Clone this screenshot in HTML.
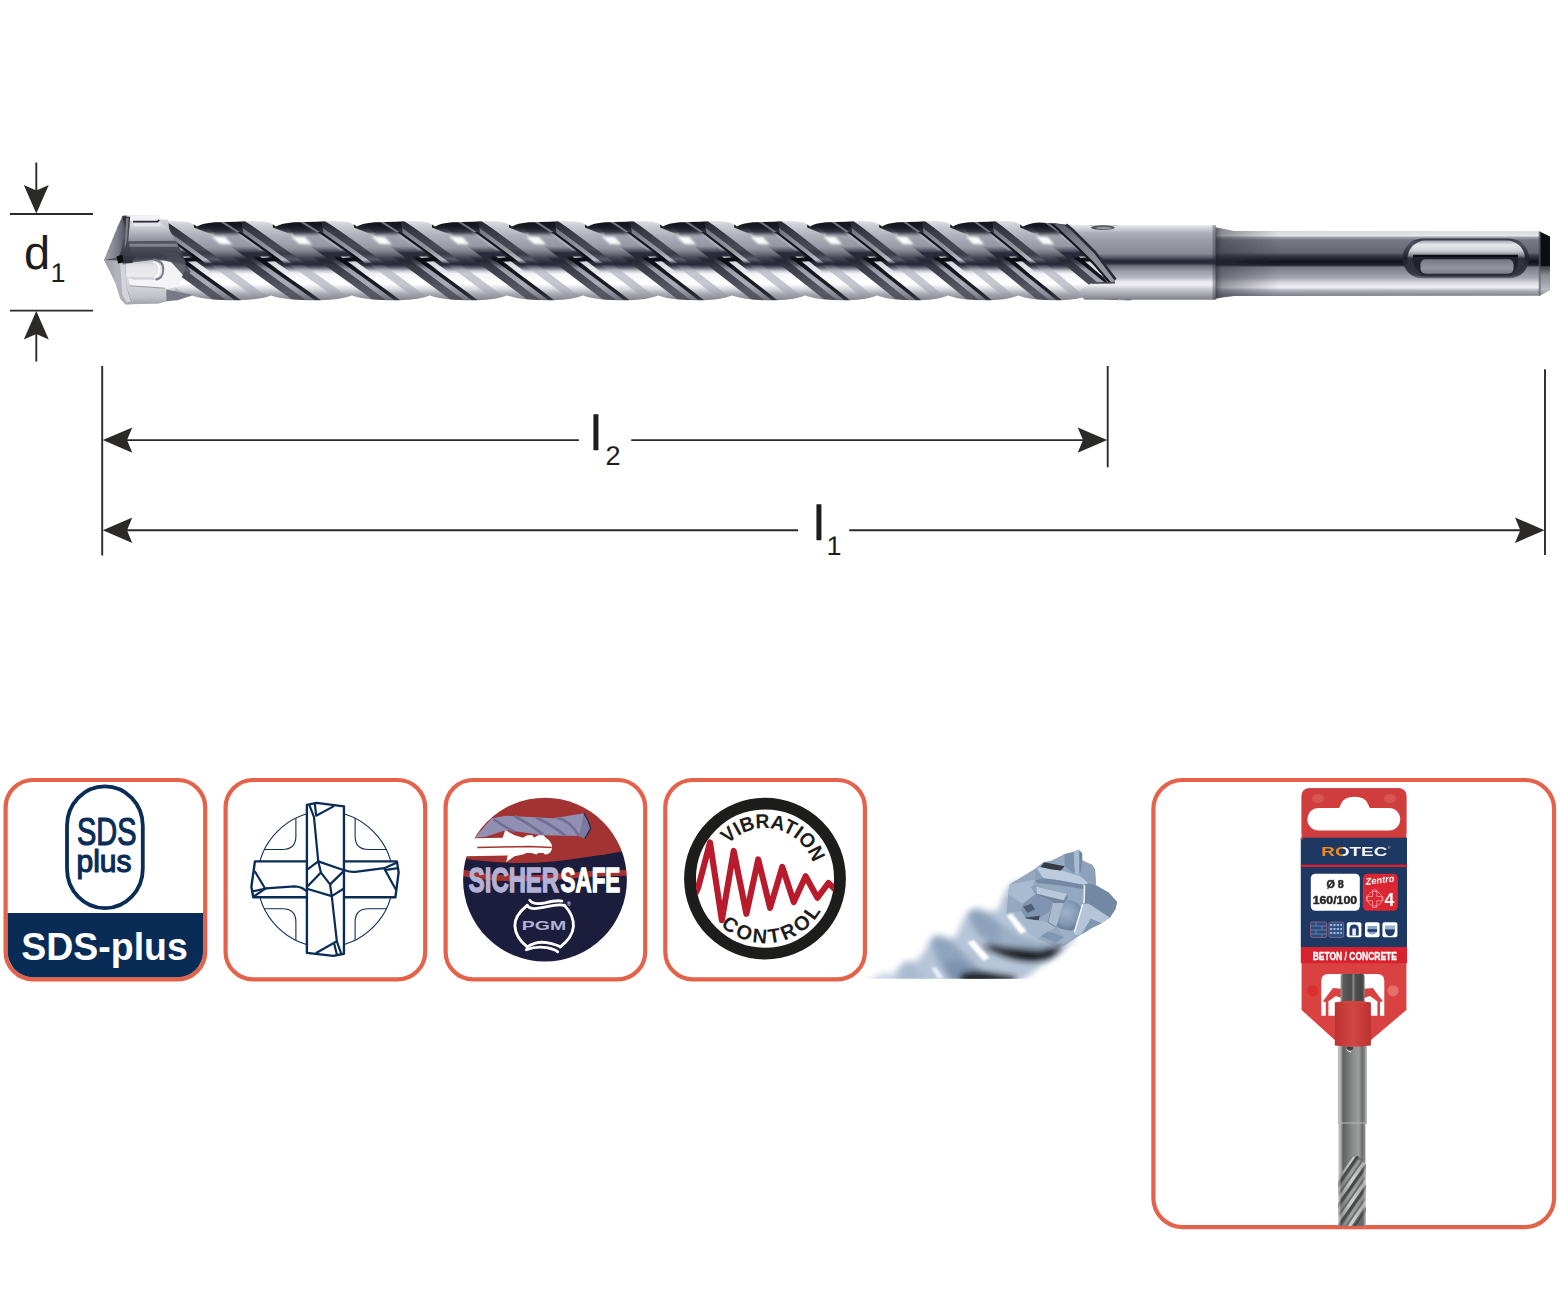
<!DOCTYPE html>
<html lang="en">
<head>
<meta charset="utf-8">
<title>SDS-plus hammer drill bit</title>
<style>
html,body{margin:0;padding:0;background:#fff;}
body{width:1560px;height:1300px;overflow:hidden;position:relative;font-family:"Liberation Sans",sans-serif;}
svg{position:absolute;left:0;top:0;display:block;}
text{font-family:"Liberation Sans",sans-serif;}
</style>
</head>
<body>
<svg width="1560" height="1300" viewBox="0 0 1560 1300">
<defs>
<linearGradient id="gGroove" gradientUnits="userSpaceOnUse" x1="0" y1="220.0" x2="0" y2="300.0"><stop offset="0.000" stop-color="#50505a"/><stop offset="0.037" stop-color="#2a2a34"/><stop offset="0.138" stop-color="#6c6c78"/><stop offset="0.212" stop-color="#a2a2ae"/><stop offset="0.325" stop-color="#9898a4"/><stop offset="0.375" stop-color="#5c5c6a"/><stop offset="0.412" stop-color="#2c2c3c"/><stop offset="0.562" stop-color="#2a2a3a"/><stop offset="0.600" stop-color="#6c6c7c"/><stop offset="0.637" stop-color="#c8c8d2"/><stop offset="0.675" stop-color="#f6f6fa"/><stop offset="0.800" stop-color="#ffffff"/><stop offset="0.863" stop-color="#d8d8de"/><stop offset="0.925" stop-color="#a8a8b2"/><stop offset="1.000" stop-color="#84848e"/></linearGradient>
<linearGradient id="gLand" gradientUnits="userSpaceOnUse" x1="0" y1="220.0" x2="0" y2="300.0"><stop offset="0.000" stop-color="#e6e6ec"/><stop offset="0.062" stop-color="#cfcfd7"/><stop offset="0.200" stop-color="#b0b0ba"/><stop offset="0.350" stop-color="#9898a4"/><stop offset="0.412" stop-color="#74747f"/><stop offset="0.463" stop-color="#4c4c5a"/><stop offset="0.487" stop-color="#404050" stop-opacity="1"/><stop offset="0.537" stop-color="#363646" stop-opacity="0"/></linearGradient>
<linearGradient id="gA" gradientUnits="userSpaceOnUse" x1="0" y1="220.0" x2="0" y2="300.0"><stop offset="0.000" stop-color="#101018"/><stop offset="0.375" stop-color="#14141c"/><stop offset="0.487" stop-color="#0c0c14" stop-opacity="1"/><stop offset="0.537" stop-color="#0c0c14" stop-opacity="0"/></linearGradient>
<linearGradient id="gAl" gradientUnits="userSpaceOnUse" x1="0" y1="220.0" x2="0" y2="300.0"><stop offset="0.438" stop-color="#0c0c14" stop-opacity="0"/><stop offset="0.494" stop-color="#0c0c14" stop-opacity="1"/><stop offset="0.688" stop-color="#181822" stop-opacity="1"/><stop offset="0.875" stop-color="#20202a" stop-opacity="1"/><stop offset="1.000" stop-color="#34343e" stop-opacity="1"/></linearGradient>
<linearGradient id="gG1" gradientUnits="userSpaceOnUse" x1="0" y1="220.0" x2="0" y2="300.0"><stop offset="0.000" stop-color="#3c3c46"/><stop offset="0.075" stop-color="#6a6a76"/><stop offset="0.250" stop-color="#8a8a96"/><stop offset="0.400" stop-color="#9a9aa6"/><stop offset="0.475" stop-color="#b4b4c0"/><stop offset="0.500" stop-color="#bcbcc8" stop-opacity="1"/><stop offset="0.550" stop-color="#c4c4ce" stop-opacity="0"/></linearGradient>
<linearGradient id="gD" gradientUnits="userSpaceOnUse" x1="0" y1="220.0" x2="0" y2="300.0"><stop offset="0.000" stop-color="#24242e"/><stop offset="0.150" stop-color="#3a3a46"/><stop offset="0.350" stop-color="#4a4a56"/><stop offset="0.425" stop-color="#3a3a48"/><stop offset="0.487" stop-color="#5a5a68" stop-opacity="1"/><stop offset="0.537" stop-color="#6a6a78" stop-opacity="0"/></linearGradient>
<linearGradient id="gDl" gradientUnits="userSpaceOnUse" x1="0" y1="220.0" x2="0" y2="300.0"><stop offset="0.450" stop-color="#20202c" stop-opacity="0"/><stop offset="0.506" stop-color="#262632" stop-opacity="1"/><stop offset="0.537" stop-color="#2c2c38" stop-opacity="1"/><stop offset="0.600" stop-color="#3c3c48"/><stop offset="0.750" stop-color="#4c4c58"/><stop offset="0.900" stop-color="#5a5a66"/><stop offset="1.000" stop-color="#50505a"/></linearGradient>
<linearGradient id="gG1l" gradientUnits="userSpaceOnUse" x1="0" y1="220.0" x2="0" y2="300.0"><stop offset="0.450" stop-color="#1c1c26" stop-opacity="0"/><stop offset="0.506" stop-color="#34343f" stop-opacity="1"/><stop offset="0.550" stop-color="#50505c" stop-opacity="1"/><stop offset="0.613" stop-color="#9a9aa6"/><stop offset="0.800" stop-color="#acacb6"/><stop offset="0.925" stop-color="#8c8c98"/><stop offset="1.000" stop-color="#6c6c78"/></linearGradient>
<linearGradient id="gStreak" gradientUnits="userSpaceOnUse" x1="0" y1="220.0" x2="0" y2="300.0"><stop offset="0.550" stop-color="#9c9ca8" stop-opacity="0"/><stop offset="0.650" stop-color="#b4b4c0" stop-opacity="0.7"/><stop offset="0.850" stop-color="#b0b0bc" stop-opacity="0.75"/><stop offset="1.000" stop-color="#8c8c98" stop-opacity="0.5"/></linearGradient>
<linearGradient id="gLite" gradientUnits="userSpaceOnUse" x1="0" y1="220.0" x2="0" y2="300.0"><stop offset="0.438" stop-color="#c4c4ce" stop-opacity="1"/><stop offset="0.625" stop-color="#e8e8ee" stop-opacity="1"/><stop offset="0.675" stop-color="#ffffff" stop-opacity="0"/></linearGradient>
<linearGradient id="gWedge" gradientUnits="userSpaceOnUse" x1="0" y1="220.0" x2="0" y2="300.0"><stop offset="-0.013" stop-color="#3a3a44" stop-opacity="1"/><stop offset="0.025" stop-color="#12121a" stop-opacity="1"/><stop offset="0.100" stop-color="#1a1a24" stop-opacity="0.95"/><stop offset="0.144" stop-color="#262632" stop-opacity="0.8"/><stop offset="0.188" stop-color="#2a2a36" stop-opacity="0"/></linearGradient>
<filter id="fSoft" x="-5%" y="-20%" width="110%" height="140%"><feGaussianBlur stdDeviation="0.75"/></filter>
<filter id="fSoft2" x="-30%" y="-30%" width="160%" height="160%"><feGaussianBlur stdDeviation="1.3"/></filter>
<clipPath id="cpFlute"><path d="M150.0,222.0 L117.0,226.6 Q122.6,223.2 134.6,222.2 L157.0,221.8 Q174.6,220.2 185.8,221.8 Q193.0,223.0 197.0,226.6 L197.0,226.6 Q202.5,223.2 214.4,222.2 L236.5,221.8 Q253.9,220.2 264.9,221.8 Q272.1,223.0 276.0,226.6 L276.0,226.6 Q281.7,223.2 293.8,222.2 L316.5,221.8 Q334.3,220.2 345.7,221.8 Q352.9,223.0 357.0,226.6 L357.0,226.6 Q362.5,223.2 374.2,222.2 L396.0,221.8 Q413.2,220.2 424.1,221.8 Q431.1,223.0 435.0,226.6 L435.0,226.6 Q440.4,223.2 451.9,222.2 L473.5,221.8 Q490.4,220.2 501.2,221.8 Q508.1,223.0 512.0,226.6 L512.0,226.6 Q517.3,223.2 528.7,222.2 L550.0,221.8 Q566.7,220.2 577.4,221.8 Q584.2,223.0 588.0,226.6 L588.0,226.6 Q593.2,223.2 604.5,222.2 L625.5,221.8 Q642.0,220.2 652.5,221.8 Q659.2,223.0 663.0,226.6 L663.0,226.6 Q668.2,223.2 679.3,222.2 L700.0,221.8 Q716.3,220.2 726.6,221.8 Q733.3,223.0 737.0,226.6 L737.0,226.6 Q742.1,223.2 753.1,222.2 L773.5,221.8 Q789.6,220.2 799.8,221.8 Q806.4,223.0 810.0,226.6 L810.0,226.6 Q815.0,223.2 825.8,222.2 L846.0,221.8 Q861.8,220.2 871.9,221.8 Q878.4,223.0 882.0,226.6 L882.0,226.6 Q887.0,223.2 897.6,222.2 L917.5,221.8 Q933.1,220.2 943.1,221.8 Q949.5,223.0 953.0,226.6 L953.0,226.6 Q957.9,223.2 968.4,222.2 L988.0,221.8 Q1003.4,220.2 1013.2,221.8 Q1019.5,223.0 1023.0,226.6 L1023.0,226.6 Q1028.0,223.2 1039.0,222.4 L1056,223.4 L1068,225.6 L1118.0,225.6 L1118.0,300.0 L1158.0,295.4 Q1149.6,299.4 1130.0,300.3 Q1102.0,300.6 1088.0,295.4 L1088.0,295.4 Q1079.6,299.4 1060.0,300.3 Q1032.0,300.6 1018.0,295.4 L1018.0,295.4 Q1009.6,299.4 990.0,300.3 Q962.0,300.6 948.0,295.4 L948.0,295.4 Q939.5,299.4 919.6,300.3 Q891.2,300.6 877.0,295.4 L877.0,295.4 Q868.4,299.4 848.2,300.3 Q819.4,300.6 805.0,295.4 L805.0,295.4 Q796.2,299.4 775.8,300.3 Q746.6,300.6 732.0,295.4 L732.0,295.4 Q723.1,299.4 702.4,300.3 Q672.8,300.6 658.0,295.4 L658.0,295.4 Q649.0,299.4 628.0,300.3 Q598.0,300.6 583.0,295.4 L583.0,295.4 Q573.9,299.4 552.6,300.3 Q522.2,300.6 507.0,295.4 L507.0,295.4 Q497.8,299.4 476.2,300.3 Q445.4,300.6 430.0,295.4 L430.0,295.4 Q420.6,299.4 398.8,300.3 Q367.6,300.6 352.0,295.4 L352.0,295.4 Q342.3,299.4 319.6,300.3 Q287.2,300.6 271.0,295.4 L271.0,295.4 Q261.5,299.4 239.4,300.3 Q207.8,300.6 192.0,295.4 L192.0,295.4 Q182.4,299.4 160.0,300.3 Q128.0,300.6 112.0,295.4 L150.0,298.0 Z"/></clipPath><filter id="fHead" x="-5%" y="-5%" width="110%" height="110%"><feGaussianBlur stdDeviation="9"/></filter>
<linearGradient id="ghBody" gradientUnits="userSpaceOnUse" x1="0" y1="66" x2="0" y2="1228">
 <stop offset="0" stop-color="#dcdce2"/><stop offset="0.3" stop-color="#a0a0aa"/><stop offset="0.5" stop-color="#50505c"/><stop offset="0.6" stop-color="#e0e0e6"/><stop offset="1" stop-color="#c0c0c8"/>
</linearGradient>
<linearGradient id="ghUpper" gradientUnits="userSpaceOnUse" x1="0" y1="160" x2="0" y2="410">
 <stop offset="0" stop-color="#e4e4ea"/><stop offset="0.3" stop-color="#c8c8d0"/><stop offset="1" stop-color="#8e8e9a"/>
</linearGradient>
<linearGradient id="ghMid" gradientUnits="userSpaceOnUse" x1="0" y1="400" x2="0" y2="700">
 <stop offset="0" stop-color="#555560"/><stop offset="0.35" stop-color="#4c4c58"/><stop offset="0.7" stop-color="#3c3c48"/><stop offset="1" stop-color="#5c5c68"/>
</linearGradient>
<linearGradient id="ghTab" gradientUnits="userSpaceOnUse" x1="0" y1="650" x2="0" y2="905">
 <stop offset="0" stop-color="#b8b8c2"/><stop offset="0.25" stop-color="#e2e2e8"/><stop offset="0.8" stop-color="#ececf0"/><stop offset="1" stop-color="#c4c4cc"/>
</linearGradient>
<linearGradient id="ghPlate" gradientUnits="userSpaceOnUse" x1="0" y1="985" x2="0" y2="1222">
 <stop offset="0" stop-color="#d4d4da"/><stop offset="0.6" stop-color="#c2c2ca"/><stop offset="1" stop-color="#a4a4ae"/>
</linearGradient>
<linearGradient id="ghFacetU" gradientUnits="userSpaceOnUse" x1="55" y1="0" x2="340" y2="0">
 <stop offset="0" stop-color="#a4a4ae"/><stop offset="0.6" stop-color="#7c7c88"/><stop offset="1" stop-color="#50505c"/>
</linearGradient>
<linearGradient id="ghFacetL" gradientUnits="userSpaceOnUse" x1="55" y1="0" x2="400" y2="0">
 <stop offset="0" stop-color="#9c9ca6"/><stop offset="0.5" stop-color="#b4b4bc"/><stop offset="1" stop-color="#a8a8b2"/>
</linearGradient>
<linearGradient id="ghBandV" gradientUnits="userSpaceOnUse" x1="0" y1="80" x2="0" y2="695">
 <stop offset="0" stop-color="#2c2c36"/><stop offset="0.4" stop-color="#54545f"/><stop offset="0.8" stop-color="#3c3c48"/><stop offset="1" stop-color="#30303a"/>
</linearGradient>
<linearGradient id="gsShank" gradientUnits="userSpaceOnUse" x1="0" y1="231.2" x2="0" y2="295.8">
 <stop offset="0" stop-color="#d6d6de"/><stop offset="0.07" stop-color="#e6e6ec"/><stop offset="0.1" stop-color="#9a9aa4"/><stop offset="0.14" stop-color="#787884"/><stop offset="0.33" stop-color="#666672"/><stop offset="0.38" stop-color="#3a3a46"/><stop offset="0.46" stop-color="#16161e"/><stop offset="0.52" stop-color="#1c1c26"/><stop offset="0.56" stop-color="#7c7c88"/><stop offset="0.72" stop-color="#a6a6b0"/><stop offset="0.8" stop-color="#dadae0"/><stop offset="0.87" stop-color="#f0f0f4"/><stop offset="0.92" stop-color="#b0b0ba"/><stop offset="1" stop-color="#80808a"/>
</linearGradient>
<linearGradient id="gsStepShade" x1="0" y1="0" x2="1" y2="0">
 <stop offset="0" stop-color="#20202a" stop-opacity="0.75"/><stop offset="0.12" stop-color="#30303a" stop-opacity="0.45"/><stop offset="1" stop-color="#30303a" stop-opacity="0"/>
</linearGradient>
<linearGradient id="gsEndLow" x1="0" y1="0" x2="0" y2="1">
 <stop offset="0" stop-color="#3a3a44"/><stop offset="0.3" stop-color="#8a8a94"/><stop offset="0.8" stop-color="#b8b8c0"/><stop offset="1" stop-color="#8a8a94"/>
</linearGradient>
<linearGradient id="gsCollar" gradientUnits="userSpaceOnUse" x1="0" y1="225.2" x2="0" y2="299.7">
 <stop offset="0" stop-color="#e4e4ea"/><stop offset="0.04" stop-color="#d4d4dc"/><stop offset="0.1" stop-color="#b0b0bc"/><stop offset="0.2" stop-color="#9c9ca8"/><stop offset="0.38" stop-color="#8a8a96"/><stop offset="0.43" stop-color="#5c5c6a"/><stop offset="0.47" stop-color="#2c2c3a"/><stop offset="0.51" stop-color="#2a2a38"/><stop offset="0.55" stop-color="#74747f"/><stop offset="0.62" stop-color="#9c9ca8"/><stop offset="0.7" stop-color="#b8b8c2"/><stop offset="0.76" stop-color="#e8e8ee"/><stop offset="0.8" stop-color="#f0f0f4"/><stop offset="0.86" stop-color="#c8c8d0"/><stop offset="0.93" stop-color="#a4a4ae"/><stop offset="1" stop-color="#7e7e88"/>
</linearGradient>
<linearGradient id="gsSlotRim" x1="0" y1="0" x2="0" y2="1">
 <stop offset="0" stop-color="#3a3a46"/><stop offset="0.15" stop-color="#50505c"/><stop offset="0.5" stop-color="#22222c"/><stop offset="0.9" stop-color="#3c3c48"/><stop offset="1" stop-color="#6c6c78"/>
</linearGradient>
<linearGradient id="gsSlotIn" x1="0" y1="0" x2="0" y2="1">
 <stop offset="0" stop-color="#a8a8b4"/><stop offset="0.12" stop-color="#e8e8ee"/><stop offset="0.28" stop-color="#d0d0d8"/><stop offset="0.4" stop-color="#8c8c98"/><stop offset="0.5" stop-color="#30303a"/><stop offset="1" stop-color="#30303a"/>
</linearGradient>
<linearGradient id="gsSlotFloor" x1="0" y1="0" x2="0" y2="1">
 <stop offset="0" stop-color="#767682"/><stop offset="0.6" stop-color="#9494a0"/><stop offset="1" stop-color="#7c7c88"/>
</linearGradient>
<linearGradient id="gsTongue" gradientUnits="userSpaceOnUse" x1="0" y1="224" x2="0" y2="283">
 <stop offset="0" stop-color="#5c5c68"/><stop offset="0.3" stop-color="#80808c"/><stop offset="0.6" stop-color="#8c8c98"/><stop offset="1" stop-color="#a0a0ac"/>
</linearGradient>
<filter id="fI3" x="-5%" y="-5%" width="110%" height="110%"><feGaussianBlur stdDeviation="3"/></filter>
<filter id="fTipBlur" x="-20%" y="-20%" width="140%" height="140%"><feGaussianBlur stdDeviation="3"/></filter>
<filter id="fTipBlur2" x="-30%" y="-30%" width="160%" height="160%"><feGaussianBlur stdDeviation="1.3"/></filter>
<filter id="fTipHead" x="-10%" y="-10%" width="120%" height="120%"><feGaussianBlur stdDeviation="8"/></filter>
<linearGradient id="gtBody" gradientUnits="userSpaceOnUse" x1="900" y1="985" x2="1050" y2="880">
 <stop offset="0" stop-color="#c4d0e0"/><stop offset="0.3" stop-color="#a4b6cc"/><stop offset="0.7" stop-color="#9aaec6"/><stop offset="1" stop-color="#a0b2c8"/>
</linearGradient>
<radialGradient id="gtDome" cx="0.45" cy="0.4" r="0.65">
 <stop offset="0" stop-color="#9db1c9"/><stop offset="0.6" stop-color="#8398b2"/><stop offset="1" stop-color="#5d728c"/>
</radialGradient>
<filter id="fPack" x="-5%" y="-5%" width="110%" height="110%"><feGaussianBlur stdDeviation="0.55"/></filter>
<linearGradient id="gpShank" gradientUnits="userSpaceOnUse" x1="1337.8" y1="0" x2="1367" y2="0">
 <stop offset="0" stop-color="#c4c6c6"/><stop offset="0.1" stop-color="#b0b2b2"/><stop offset="0.18" stop-color="#5e6060"/><stop offset="0.3" stop-color="#6e7070"/><stop offset="0.5" stop-color="#8a8c8c"/><stop offset="0.72" stop-color="#9c9e9e"/><stop offset="0.84" stop-color="#6a6c6c"/><stop offset="0.93" stop-color="#8e9090"/><stop offset="1" stop-color="#cacccc"/>
</linearGradient>
<linearGradient id="gpFlShade" gradientUnits="userSpaceOnUse" x1="1338.5" y1="0" x2="1365.5" y2="0">
 <stop offset="0" stop-color="#d0d2d2" stop-opacity="0.8"/><stop offset="0.12" stop-color="#505252" stop-opacity="0.5"/><stop offset="0.5" stop-color="#808282" stop-opacity="0.1"/><stop offset="0.88" stop-color="#606262" stop-opacity="0.35"/><stop offset="1" stop-color="#d0d2d2" stop-opacity="0.7"/>
</linearGradient>
<clipPath id="cpPackFl"><path d="M1338.5,1177 L1353,1157 L1358,1156 L1365.5,1164 L1365.5,1226 L1338.5,1226 Z"/></clipPath>
<linearGradient id="gpShankTop" gradientUnits="userSpaceOnUse" x1="1340.6" y1="0" x2="1364.6" y2="0">
 <stop offset="0" stop-color="#9a9a9a"/><stop offset="0.12" stop-color="#5a5a5a"/><stop offset="0.45" stop-color="#4c4c4c"/><stop offset="0.53" stop-color="#8a8a8a"/><stop offset="0.62" stop-color="#505050"/><stop offset="0.9" stop-color="#444444"/><stop offset="1" stop-color="#787878"/>
</linearGradient>
<linearGradient id="gpCap" gradientUnits="userSpaceOnUse" x1="1334.8" y1="0" x2="1370.9" y2="0">
 <stop offset="0" stop-color="#b93331"/><stop offset="0.15" stop-color="#c43836"/><stop offset="0.5" stop-color="#d24643"/><stop offset="0.8" stop-color="#c63a38"/><stop offset="1" stop-color="#b93331"/>
</linearGradient>
<linearGradient id="gpO" x1="0" y1="0" x2="1" y2="0">
 <stop offset="0.315" stop-color="#f08a1c"/><stop offset="0.33" stop-color="#f4f6fa"/>
</linearGradient>

</defs>

<!-- ===== dimension lines ===== -->
<g id="dims" stroke="#2b2a29" stroke-width="1.9" fill="none">
  <line x1="36.3" y1="162.5" x2="36.3" y2="200"/>
  <line x1="10" y1="214" x2="93" y2="214"/>
  <line x1="10" y1="310.6" x2="93" y2="310.6"/>
  <line x1="36.3" y1="325" x2="36.3" y2="361.5"/>
  <line x1="102.2" y1="366" x2="102.2" y2="555.5"/>
  <line x1="1107.7" y1="366" x2="1107.7" y2="467.3"/>
  <line x1="1545" y1="369.3" x2="1545" y2="555"/>
  <line x1="125" y1="440.1" x2="578.9" y2="440.1"/>
  <line x1="631.2" y1="440.1" x2="1085" y2="440.1"/>
  <line x1="125" y1="530.2" x2="798" y2="530.2"/>
  <line x1="849.2" y1="530.2" x2="1522" y2="530.2"/>
</g>
<g id="arrowheads" fill="#2b2a29">
  <path d="M36.3,213.5 L23.8,185 L36.3,190.5 L48.8,185 Z"/>
  <path d="M36.3,311 L23.8,339.5 L36.3,334 L48.8,339.5 Z"/>
  <path d="M102.8,440.1 L132.3,427.4 L127,440.1 L132.3,452.8 Z"/>
  <path d="M102.8,530.2 L132.3,517.5 L127,530.2 L132.3,542.9 Z"/>
  <path d="M1107.2,440.1 L1077.7,427.4 L1083,440.1 L1077.7,452.8 Z"/>
  <path d="M1544.5,530.2 L1515,517.5 L1520.3,530.2 L1515,542.9 Z"/>
</g>
<g id="dimtext" fill="#1d1d1b" text-rendering="geometricPrecision">
  <text x="24" y="268.6" font-size="47">d<tspan font-size="27" dx="0.4" dy="13.4">1</tspan></text>
  <text x="590.6" y="450" font-size="49" stroke="#1d1d1b" stroke-width="0.5">l<tspan font-size="27" dx="4" dy="14.9" stroke="none">2</tspan></text>
  <text x="813.6" y="539.7" font-size="49" stroke="#1d1d1b" stroke-width="0.5">l<tspan font-size="27" dx="2" dy="15.4" stroke="none">1</tspan></text>
</g>

<!-- ===== drill bit ===== -->
<g id="drill">
<g clip-path="url(#cpFlute)"><g filter="url(#fSoft)">
<rect x="145.0" y="215.0" width="978.0" height="90.0" fill="url(#gGroove)"/>
<path d="M37.0,218.0 L37.0,229.4 L37.0,240.8 L49.3,252.1 L65.3,263.5 L94.7,263.5 L78.8,252.1 L62.9,240.8 L47.0,229.4 L37.0,218.0Z" fill="url(#gLand)" />
<path d="M37.0,218.0 L37.0,229.4 L37.0,240.8 L37.0,252.1 L52.6,263.5 L65.8,263.5 L49.9,252.1 L37.0,240.8 L37.0,229.4 L37.0,218.0Z" fill="url(#gD)" />
<path d="M37.0,218.0 L37.0,229.4 L37.0,240.8 L37.0,252.1 L45.8,263.5 L53.1,263.5 L37.1,252.1 L37.0,240.8 L37.0,229.4 L37.0,218.0Z" fill="url(#gG1)" />
<path d="M37.0,218.0 L37.0,226.1 L37.0,234.2 L37.0,242.4 L37.0,250.5 L37.0,250.5 L37.0,242.4 L37.0,234.2 L37.0,226.1 L37.0,218.0Z" fill="#c4c4ce" opacity="0.4"/>
<path d="M37.0,218.0 L37.0,229.4 L37.0,240.8 L37.0,252.1 L42.5,263.5 L46.3,263.5 L37.0,252.1 L37.0,240.8 L37.0,229.4 L37.0,218.0Z" fill="url(#gA)" />
<path d="M37.0,256.5 L37.0,261.2 L37.0,266.0 L40.7,270.8 L47.3,275.5 L55.8,275.5 L49.1,270.8 L42.5,266.0 L37.0,261.2 L37.0,256.5Z" fill="url(#gLite)" />
<path d="M45.6,261.5 L59.8,271.6 L74.0,281.8 L88.2,291.9 L102.3,302.0 L116.0,302.0 L101.8,291.9 L87.7,281.8 L73.5,271.6 L59.3,261.5Z" fill="url(#gStreak)" />
<path d="M37.0,255.5 L37.0,267.1 L37.0,278.8 L40.3,290.4 L56.5,302.0 L70.2,302.0 L53.9,290.4 L37.7,278.8 L37.0,267.1 L37.0,255.5Z" fill="url(#gDl)" />
<path d="M37.0,255.5 L37.0,267.1 L37.1,278.8 L53.4,290.4 L69.7,302.0 L78.1,302.0 L61.8,290.4 L45.6,278.8 L37.0,267.1 L37.0,255.5Z" fill="url(#gG1l)" />
<path d="M37.0,254.5 L37.0,266.4 L44.3,278.2 L61.0,290.1 L77.6,302.0 L83.9,302.0 L67.3,290.1 L50.7,278.2 L37.0,266.4 L37.0,254.5Z" fill="url(#gAl)" />
<path d="M34.0,258.5 L36.3,256.9 L40.3,261.1 L40.0,262.1Z" fill="#0a0a12" />
<path d="M81.6,218.0 L97.5,229.4 L113.4,240.8 L129.3,252.1 L145.3,263.5 L174.7,263.5 L158.8,252.1 L142.9,240.8 L127.0,229.4 L111.0,218.0Z" fill="url(#gLand)" />
<path d="M68.9,218.0 L84.9,229.4 L100.8,240.8 L116.7,252.1 L132.6,263.5 L145.8,263.5 L129.9,252.1 L113.9,240.8 L98.0,229.4 L82.1,218.0Z" fill="url(#gD)" />
<path d="M62.1,218.0 L78.0,229.4 L93.9,240.8 L109.9,252.1 L125.8,263.5 L133.1,263.5 L117.1,252.1 L101.2,240.8 L85.3,229.4 L69.4,218.0Z" fill="url(#gG1)" />
<path d="M54.7,218.0 L66.1,226.1 L77.5,234.2 L88.9,242.4 L100.2,250.5 L105.0,250.5 L93.6,242.4 L82.2,234.2 L70.8,226.1 L59.5,218.0Z" fill="#c4c4ce" opacity="0.4"/>
<path d="M58.8,218.0 L74.8,229.4 L90.7,240.8 L106.6,252.1 L122.5,263.5 L126.3,263.5 L110.4,252.1 L94.5,240.8 L78.5,229.4 L62.6,218.0Z" fill="url(#gA)" />
<path d="M100.7,256.5 L107.4,261.2 L114.0,266.0 L120.7,270.8 L127.3,275.5 L135.8,275.5 L129.1,270.8 L122.5,266.0 L115.8,261.2 L109.2,256.5Z" fill="url(#gLite)" />
<path d="M125.6,261.5 L139.8,271.6 L154.0,281.8 L168.2,291.9 L182.3,302.0 L196.0,302.0 L181.8,291.9 L167.7,281.8 L153.5,271.6 L139.3,261.5Z" fill="url(#gStreak)" />
<path d="M71.4,255.5 L87.7,267.1 L104.0,278.8 L120.3,290.4 L136.5,302.0 L150.2,302.0 L133.9,290.4 L117.7,278.8 L101.4,267.1 L85.1,255.5Z" fill="url(#gDl)" />
<path d="M84.6,255.5 L100.9,267.1 L117.1,278.8 L133.4,290.4 L149.7,302.0 L158.1,302.0 L141.8,290.4 L125.6,278.8 L109.3,267.1 L93.0,255.5Z" fill="url(#gG1l)" />
<path d="M91.1,254.5 L107.7,266.4 L124.3,278.2 L141.0,290.1 L157.6,302.0 L163.9,302.0 L147.3,290.1 L130.7,278.2 L114.0,266.4 L97.4,254.5Z" fill="url(#gAl)" />
<path d="M95.6,258.5 L116.3,256.9 L120.3,261.1 L101.6,262.1Z" fill="#0a0a12" />
<path d="M161.6,218.0 L177.5,229.4 L193.4,240.8 L209.2,252.1 L224.9,263.5 L254.0,263.5 L238.3,252.1 L222.6,240.8 L206.8,229.4 L191.0,218.0Z" fill="url(#gLand)" />
<path d="M148.9,218.0 L164.9,229.4 L180.8,240.8 L196.7,252.1 L212.4,263.5 L225.4,263.5 L209.7,252.1 L193.9,240.8 L178.0,229.4 L162.1,218.0Z" fill="url(#gD)" />
<path d="M142.1,218.0 L158.0,229.4 L173.9,240.8 L189.9,252.1 L205.7,263.5 L212.9,263.5 L197.1,252.1 L181.2,240.8 L165.3,229.4 L149.4,218.0Z" fill="url(#gG1)" />
<path d="M134.7,218.0 L146.1,226.1 L157.5,234.2 L168.9,242.4 L180.2,250.5 L185.0,250.5 L173.6,242.4 L162.2,234.2 L150.8,226.1 L139.5,218.0Z" fill="#c4c4ce" opacity="0.4"/>
<path d="M138.8,218.0 L154.8,229.4 L170.7,240.8 L186.6,252.1 L202.5,263.5 L206.2,263.5 L190.4,252.1 L174.5,240.8 L158.5,229.4 L142.6,218.0Z" fill="url(#gA)" />
<path d="M180.7,256.5 L187.4,261.2 L194.0,266.0 L200.6,270.8 L207.2,275.5 L215.5,275.5 L209.0,270.8 L202.4,266.0 L195.8,261.2 L189.2,256.5Z" fill="url(#gLite)" />
<path d="M205.5,261.5 L219.5,271.6 L233.5,281.8 L247.5,291.9 L261.5,302.0 L275.0,302.0 L261.0,291.9 L247.0,281.8 L233.0,271.6 L219.0,261.5Z" fill="url(#gStreak)" />
<path d="M151.4,255.5 L167.7,267.1 L184.0,278.8 L200.2,290.4 L216.3,302.0 L229.8,302.0 L213.7,290.4 L197.7,278.8 L181.4,267.1 L165.1,255.5Z" fill="url(#gDl)" />
<path d="M164.6,255.5 L180.9,267.1 L197.1,278.8 L213.2,290.4 L229.3,302.0 L237.6,302.0 L221.5,290.4 L205.5,278.8 L189.3,267.1 L173.0,255.5Z" fill="url(#gG1l)" />
<path d="M171.1,254.5 L187.7,266.4 L204.2,278.2 L220.7,290.1 L237.1,302.0 L243.3,302.0 L226.9,290.1 L210.5,278.2 L194.0,266.4 L177.4,254.5Z" fill="url(#gAl)" />
<path d="M175.6,258.5 L196.3,256.9 L200.3,261.1 L181.6,262.1Z" fill="#0a0a12" />
<path d="M241.0,218.0 L256.7,229.4 L272.5,240.8 L288.5,252.1 L304.6,263.5 L334.5,263.5 L318.3,252.1 L302.2,240.8 L286.1,229.4 L270.1,218.0Z" fill="url(#gLand)" />
<path d="M228.5,218.0 L244.3,229.4 L260.0,240.8 L275.7,252.1 L291.8,263.5 L305.2,263.5 L289.0,252.1 L273.0,240.8 L257.3,229.4 L241.5,218.0Z" fill="url(#gD)" />
<path d="M221.8,218.0 L237.5,229.4 L253.2,240.8 L269.0,252.1 L284.9,263.5 L292.3,263.5 L276.1,252.1 L260.4,240.8 L244.7,229.4 L229.0,218.0Z" fill="url(#gG1)" />
<path d="M214.5,218.0 L225.7,226.1 L237.0,234.2 L248.2,242.4 L259.4,250.5 L264.1,250.5 L252.9,242.4 L241.6,234.2 L230.4,226.1 L219.2,218.0Z" fill="#c4c4ce" opacity="0.4"/>
<path d="M218.6,218.0 L234.3,229.4 L250.0,240.8 L265.7,252.1 L281.6,263.5 L285.4,263.5 L269.5,252.1 L253.8,240.8 L238.0,229.4 L222.3,218.0Z" fill="url(#gA)" />
<path d="M259.9,256.5 L266.5,261.2 L273.1,266.0 L279.7,270.8 L286.5,275.5 L295.0,275.5 L288.3,270.8 L281.5,266.0 L274.8,261.2 L268.3,256.5Z" fill="url(#gLite)" />
<path d="M284.7,261.5 L299.1,271.6 L313.4,281.8 L327.8,291.9 L342.1,302.0 L356.0,302.0 L341.6,291.9 L327.3,281.8 L312.9,271.6 L298.6,261.5Z" fill="url(#gStreak)" />
<path d="M231.0,255.5 L247.1,267.1 L263.1,278.8 L279.3,290.4 L295.8,302.0 L309.6,302.0 L293.2,290.4 L276.7,278.8 L260.6,267.1 L244.5,255.5Z" fill="url(#gDl)" />
<path d="M244.0,255.5 L260.1,267.1 L276.1,278.8 L292.6,290.4 L309.1,302.0 L317.6,302.0 L301.2,290.4 L284.7,278.8 L268.4,267.1 L252.3,255.5Z" fill="url(#gG1l)" />
<path d="M250.4,254.5 L266.8,266.4 L283.4,278.2 L300.3,290.1 L317.1,302.0 L323.5,302.0 L306.7,290.1 L289.8,278.2 L273.1,266.4 L256.7,254.5Z" fill="url(#gAl)" />
<path d="M254.8,258.5 L275.4,256.9 L279.4,261.1 L260.8,262.1Z" fill="#0a0a12" />
<path d="M321.1,218.0 L337.2,229.4 L353.4,240.8 L369.0,252.1 L384.6,263.5 L413.3,263.5 L397.8,252.1 L382.2,240.8 L366.7,229.4 L351.0,218.0Z" fill="url(#gLand)" />
<path d="M308.3,218.0 L324.5,229.4 L340.6,240.8 L356.7,252.1 L372.2,263.5 L385.1,263.5 L369.5,252.1 L353.9,240.8 L337.8,229.4 L321.7,218.0Z" fill="url(#gD)" />
<path d="M301.4,218.0 L317.5,229.4 L333.7,240.8 L349.8,252.1 L365.6,263.5 L372.7,263.5 L357.1,252.1 L341.0,240.8 L324.9,229.4 L308.8,218.0Z" fill="url(#gG1)" />
<path d="M293.9,218.0 L305.5,226.1 L317.0,234.2 L328.5,242.4 L340.0,250.5 L344.8,250.5 L333.3,242.4 L321.8,234.2 L310.3,226.1 L298.7,218.0Z" fill="#c4c4ce" opacity="0.4"/>
<path d="M298.1,218.0 L314.2,229.4 L330.4,240.8 L346.5,252.1 L362.4,263.5 L366.1,263.5 L350.3,252.1 L334.2,240.8 L318.1,229.4 L301.9,218.0Z" fill="url(#gA)" />
<path d="M340.5,256.5 L347.3,261.2 L354.0,266.0 L360.6,270.8 L367.1,275.5 L375.3,275.5 L368.8,270.8 L362.3,266.0 L355.8,261.2 L349.1,256.5Z" fill="url(#gLite)" />
<path d="M365.4,261.5 L379.2,271.6 L393.1,281.8 L406.9,291.9 L420.7,302.0 L434.0,302.0 L420.2,291.9 L406.4,281.8 L392.6,271.6 L378.8,261.5Z" fill="url(#gStreak)" />
<path d="M310.9,255.5 L327.3,267.1 L343.8,278.8 L360.2,290.4 L376.0,302.0 L389.4,302.0 L373.5,290.4 L357.7,278.8 L341.2,267.1 L324.7,255.5Z" fill="url(#gDl)" />
<path d="M324.2,255.5 L340.7,267.1 L357.1,278.8 L373.0,290.4 L388.9,302.0 L397.1,302.0 L381.2,290.4 L365.4,278.8 L349.2,267.1 L332.7,255.5Z" fill="url(#gG1l)" />
<path d="M330.8,254.5 L347.6,266.4 L364.2,278.2 L380.4,290.1 L396.6,302.0 L402.7,302.0 L386.5,290.1 L370.3,278.2 L354.0,266.4 L337.2,254.5Z" fill="url(#gAl)" />
<path d="M335.4,258.5 L356.3,256.9 L360.3,261.1 L341.4,262.1Z" fill="#0a0a12" />
<path d="M400.5,218.0 L416.0,229.4 L431.5,240.8 L446.9,252.1 L462.2,263.5 L490.6,263.5 L475.2,252.1 L459.9,240.8 L444.6,229.4 L429.2,218.0Z" fill="url(#gLand)" />
<path d="M388.1,218.0 L403.7,229.4 L419.2,240.8 L434.7,252.1 L450.1,263.5 L462.7,263.5 L447.4,252.1 L432.0,240.8 L416.5,229.4 L401.0,218.0Z" fill="url(#gD)" />
<path d="M381.5,218.0 L397.0,229.4 L412.5,240.8 L428.0,252.1 L443.5,263.5 L450.5,263.5 L435.1,252.1 L419.6,240.8 L404.1,229.4 L388.5,218.0Z" fill="url(#gG1)" />
<path d="M374.3,218.0 L385.4,226.1 L396.5,234.2 L407.6,242.4 L418.6,250.5 L423.3,250.5 L412.2,242.4 L401.1,234.2 L390.0,226.1 L378.9,218.0Z" fill="#c4c4ce" opacity="0.4"/>
<path d="M378.3,218.0 L393.8,229.4 L409.3,240.8 L424.9,252.1 L440.3,263.5 L444.0,263.5 L428.6,252.1 L413.0,240.8 L397.5,229.4 L382.0,218.0Z" fill="url(#gA)" />
<path d="M419.1,256.5 L425.6,261.2 L432.1,266.0 L438.5,270.8 L444.9,275.5 L453.0,275.5 L446.6,270.8 L440.2,266.0 L433.8,261.2 L427.3,256.5Z" fill="url(#gLite)" />
<path d="M443.3,261.5 L456.9,271.6 L470.6,281.8 L484.2,291.9 L497.9,302.0 L511.0,302.0 L497.4,291.9 L483.8,281.8 L470.1,271.6 L456.5,261.5Z" fill="url(#gStreak)" />
<path d="M390.6,255.5 L406.4,267.1 L422.3,278.8 L438.1,290.4 L453.8,302.0 L467.0,302.0 L451.3,290.4 L435.6,278.8 L419.8,267.1 L403.9,255.5Z" fill="url(#gDl)" />
<path d="M403.4,255.5 L419.3,267.1 L435.1,278.8 L450.8,290.4 L466.5,302.0 L474.6,302.0 L458.9,290.4 L443.2,278.8 L427.5,267.1 L411.6,255.5Z" fill="url(#gG1l)" />
<path d="M409.7,254.5 L425.9,266.4 L442.1,278.2 L458.1,290.1 L474.1,302.0 L480.1,302.0 L464.1,290.1 L448.1,278.2 L432.1,266.4 L415.9,254.5Z" fill="url(#gAl)" />
<path d="M414.1,258.5 L434.2,256.9 L438.2,261.1 L420.1,262.1Z" fill="#0a0a12" />
<path d="M477.9,218.0 L493.2,229.4 L508.6,240.8 L523.7,252.1 L538.9,263.5 L566.9,263.5 L551.7,252.1 L536.6,240.8 L521.5,229.4 L506.3,218.0Z" fill="url(#gLand)" />
<path d="M465.7,218.0 L481.1,229.4 L496.4,240.8 L511.7,252.1 L526.9,263.5 L539.4,263.5 L524.2,252.1 L509.1,240.8 L493.7,229.4 L478.4,218.0Z" fill="url(#gD)" />
<path d="M459.2,218.0 L474.5,229.4 L489.8,240.8 L505.1,252.1 L520.4,263.5 L527.3,263.5 L512.1,252.1 L496.8,240.8 L481.5,229.4 L466.1,218.0Z" fill="url(#gG1)" />
<path d="M452.1,218.0 L463.0,226.1 L474.0,234.2 L484.9,242.4 L495.9,250.5 L500.4,250.5 L489.5,242.4 L478.5,234.2 L467.6,226.1 L456.6,218.0Z" fill="#c4c4ce" opacity="0.4"/>
<path d="M456.0,218.0 L471.3,229.4 L486.7,240.8 L502.0,252.1 L517.3,263.5 L520.9,263.5 L505.6,252.1 L490.3,240.8 L475.0,229.4 L459.7,218.0Z" fill="url(#gA)" />
<path d="M496.3,256.5 L502.7,261.2 L509.1,266.0 L515.5,270.8 L521.8,275.5 L529.8,275.5 L523.5,270.8 L517.2,266.0 L510.8,261.2 L504.4,256.5Z" fill="url(#gLite)" />
<path d="M520.2,261.5 L533.7,271.6 L547.1,281.8 L560.6,291.9 L574.1,302.0 L587.1,302.0 L573.6,291.9 L560.1,281.8 L546.7,271.6 L533.2,261.5Z" fill="url(#gStreak)" />
<path d="M468.1,255.5 L483.8,267.1 L499.5,278.8 L515.1,290.4 L530.6,302.0 L543.6,302.0 L528.1,290.4 L512.6,278.8 L497.0,267.1 L481.3,255.5Z" fill="url(#gDl)" />
<path d="M480.8,255.5 L496.5,267.1 L512.1,278.8 L527.6,290.4 L543.1,302.0 L551.1,302.0 L535.6,290.4 L520.1,278.8 L504.6,267.1 L488.9,255.5Z" fill="url(#gG1l)" />
<path d="M487.1,254.5 L503.1,266.4 L519.0,278.2 L534.8,290.1 L550.6,302.0 L556.6,302.0 L540.8,290.1 L525.0,278.2 L509.1,266.4 L493.1,254.5Z" fill="url(#gAl)" />
<path d="M491.3,258.5 L511.2,256.9 L515.2,261.1 L497.3,262.1Z" fill="#0a0a12" />
<path d="M554.3,218.0 L569.5,229.4 L584.6,240.8 L599.6,252.1 L614.5,263.5 L642.1,263.5 L627.2,252.1 L612.3,240.8 L597.3,229.4 L582.3,218.0Z" fill="url(#gLand)" />
<path d="M542.3,218.0 L557.5,229.4 L572.6,240.8 L587.7,252.1 L602.7,263.5 L615.0,263.5 L600.1,252.1 L585.1,240.8 L570.0,229.4 L554.8,218.0Z" fill="url(#gD)" />
<path d="M535.8,218.0 L551.0,229.4 L566.1,240.8 L581.2,252.1 L596.2,263.5 L603.1,263.5 L588.1,252.1 L573.0,240.8 L557.9,229.4 L542.7,218.0Z" fill="url(#gG1)" />
<path d="M528.8,218.0 L539.6,226.1 L550.5,234.2 L561.3,242.4 L572.1,250.5 L576.6,250.5 L565.8,242.4 L555.0,234.2 L544.1,226.1 L533.3,218.0Z" fill="#c4c4ce" opacity="0.4"/>
<path d="M532.7,218.0 L547.9,229.4 L563.0,240.8 L578.1,252.1 L593.2,263.5 L596.7,263.5 L581.7,252.1 L566.6,240.8 L551.5,229.4 L536.3,218.0Z" fill="url(#gA)" />
<path d="M572.5,256.5 L578.9,261.2 L585.2,266.0 L591.5,270.8 L597.7,275.5 L605.6,275.5 L599.3,270.8 L593.1,266.0 L586.9,261.2 L580.5,256.5Z" fill="url(#gLite)" />
<path d="M596.1,261.5 L609.4,271.6 L622.7,281.8 L636.0,291.9 L649.2,302.0 L662.1,302.0 L648.8,291.9 L635.5,281.8 L622.2,271.6 L608.9,261.5Z" fill="url(#gStreak)" />
<path d="M544.7,255.5 L560.2,267.1 L575.6,278.8 L591.1,290.4 L606.3,302.0 L619.1,302.0 L603.9,290.4 L588.6,278.8 L573.2,267.1 L557.7,255.5Z" fill="url(#gDl)" />
<path d="M557.2,255.5 L572.7,267.1 L588.1,278.8 L603.4,290.4 L618.7,302.0 L626.5,302.0 L611.3,290.4 L596.0,278.8 L580.7,267.1 L565.2,255.5Z" fill="url(#gG1l)" />
<path d="M563.4,254.5 L579.2,266.4 L594.9,278.2 L610.5,290.1 L626.1,302.0 L632.0,302.0 L616.4,290.1 L600.8,278.2 L585.2,266.4 L569.4,254.5Z" fill="url(#gAl)" />
<path d="M567.5,258.5 L587.2,256.9 L591.2,261.1 L573.5,262.1Z" fill="#0a0a12" />
<path d="M629.8,218.0 L644.7,229.4 L659.6,240.8 L674.4,252.1 L689.1,263.5 L716.4,263.5 L701.7,252.1 L687.0,240.8 L672.2,229.4 L657.4,218.0Z" fill="url(#gLand)" />
<path d="M617.9,218.0 L632.9,229.4 L647.8,240.8 L662.7,252.1 L677.5,263.5 L689.6,263.5 L674.9,252.1 L660.1,240.8 L645.2,229.4 L630.3,218.0Z" fill="url(#gD)" />
<path d="M611.5,218.0 L626.5,229.4 L641.4,240.8 L656.3,252.1 L671.1,263.5 L677.9,263.5 L663.1,252.1 L648.2,240.8 L633.3,229.4 L618.3,218.0Z" fill="url(#gG1)" />
<path d="M604.6,218.0 L615.3,226.1 L625.9,234.2 L636.6,242.4 L647.3,250.5 L651.7,250.5 L641.1,242.4 L630.4,234.2 L619.7,226.1 L609.1,218.0Z" fill="#c4c4ce" opacity="0.4"/>
<path d="M608.5,218.0 L623.4,229.4 L638.3,240.8 L653.3,252.1 L668.1,263.5 L671.6,263.5 L656.8,252.1 L641.9,240.8 L626.9,229.4 L612.0,218.0Z" fill="url(#gA)" />
<path d="M647.7,256.5 L654.0,261.2 L660.2,266.0 L666.4,270.8 L672.6,275.5 L680.3,275.5 L674.2,270.8 L668.0,266.0 L661.9,261.2 L655.6,256.5Z" fill="url(#gLite)" />
<path d="M671.0,261.5 L684.1,271.6 L697.2,281.8 L710.3,291.9 L723.4,302.0 L736.1,302.0 L723.0,291.9 L709.9,281.8 L696.7,271.6 L683.6,261.5Z" fill="url(#gStreak)" />
<path d="M620.3,255.5 L635.5,267.1 L650.8,278.8 L666.0,290.4 L681.1,302.0 L693.7,302.0 L678.7,290.4 L663.6,278.8 L648.4,267.1 L633.1,255.5Z" fill="url(#gDl)" />
<path d="M632.6,255.5 L647.9,267.1 L663.1,278.8 L678.2,290.4 L693.2,302.0 L701.0,302.0 L686.0,290.4 L670.9,278.8 L655.8,267.1 L640.5,255.5Z" fill="url(#gG1l)" />
<path d="M638.7,254.5 L654.3,266.4 L669.8,278.2 L685.2,290.1 L700.5,302.0 L706.4,302.0 L691.0,290.1 L675.6,278.2 L660.2,266.4 L644.6,254.5Z" fill="url(#gAl)" />
<path d="M642.8,258.5 L662.1,256.9 L666.1,261.1 L648.8,262.1Z" fill="#0a0a12" />
<path d="M704.2,218.0 L719.0,229.4 L733.7,240.8 L748.3,252.1 L762.8,263.5 L789.7,263.5 L775.2,252.1 L760.6,240.8 L746.1,229.4 L731.5,218.0Z" fill="url(#gLand)" />
<path d="M692.5,218.0 L707.3,229.4 L722.0,240.8 L736.7,252.1 L751.3,263.5 L763.3,263.5 L748.7,252.1 L734.2,240.8 L719.4,229.4 L704.7,218.0Z" fill="url(#gD)" />
<path d="M686.2,218.0 L700.9,229.4 L715.7,240.8 L730.4,252.1 L745.0,263.5 L751.7,263.5 L737.1,252.1 L722.4,240.8 L707.7,229.4 L692.9,218.0Z" fill="url(#gG1)" />
<path d="M679.4,218.0 L689.9,226.1 L700.4,234.2 L711.0,242.4 L721.5,250.5 L725.9,250.5 L715.3,242.4 L704.8,234.2 L694.3,226.1 L683.8,218.0Z" fill="#c4c4ce" opacity="0.4"/>
<path d="M683.2,218.0 L697.9,229.4 L712.7,240.8 L727.4,252.1 L742.0,263.5 L745.5,263.5 L730.9,252.1 L716.2,240.8 L701.4,229.4 L686.7,218.0Z" fill="url(#gA)" />
<path d="M722.0,256.5 L728.1,261.2 L734.3,266.0 L740.4,270.8 L746.4,275.5 L754.1,275.5 L748.0,270.8 L742.0,266.0 L735.9,261.2 L729.7,256.5Z" fill="url(#gLite)" />
<path d="M744.9,261.5 L757.8,271.6 L770.7,281.8 L783.7,291.9 L796.6,302.0 L809.1,302.0 L796.2,291.9 L783.2,281.8 L770.3,271.6 L757.4,261.5Z" fill="url(#gStreak)" />
<path d="M694.9,255.5 L709.9,267.1 L725.0,278.8 L740.0,290.4 L754.8,302.0 L767.3,302.0 L752.5,290.4 L737.6,278.8 L722.6,267.1 L707.5,255.5Z" fill="url(#gDl)" />
<path d="M707.0,255.5 L722.1,267.1 L737.1,278.8 L752.0,290.4 L766.8,302.0 L774.5,302.0 L759.7,290.4 L744.8,278.8 L729.9,267.1 L714.8,255.5Z" fill="url(#gG1l)" />
<path d="M713.0,254.5 L728.4,266.4 L743.7,278.2 L758.9,290.1 L774.0,302.0 L779.8,302.0 L764.6,290.1 L749.5,278.2 L734.3,266.4 L718.9,254.5Z" fill="url(#gAl)" />
<path d="M717.0,258.5 L736.1,256.9 L740.1,261.1 L723.0,262.1Z" fill="#0a0a12" />
<path d="M777.7,218.0 L792.2,229.4 L806.7,240.8 L821.1,252.1 L835.4,263.5 L862.0,263.5 L847.6,252.1 L833.3,240.8 L819.0,229.4 L804.6,218.0Z" fill="url(#gLand)" />
<path d="M766.1,218.0 L780.7,229.4 L795.2,240.8 L809.7,252.1 L824.1,263.5 L835.9,263.5 L821.6,252.1 L807.2,240.8 L792.7,229.4 L778.1,218.0Z" fill="url(#gD)" />
<path d="M759.9,218.0 L774.4,229.4 L789.0,240.8 L803.5,252.1 L817.9,263.5 L824.5,263.5 L810.1,252.1 L795.6,240.8 L781.1,229.4 L766.5,218.0Z" fill="url(#gG1)" />
<path d="M753.2,218.0 L763.6,226.1 L773.9,234.2 L784.3,242.4 L794.7,250.5 L799.0,250.5 L788.6,242.4 L778.3,234.2 L767.9,226.1 L757.5,218.0Z" fill="#c4c4ce" opacity="0.4"/>
<path d="M756.9,218.0 L771.5,229.4 L786.0,240.8 L800.5,252.1 L815.0,263.5 L818.4,263.5 L804.0,252.1 L789.4,240.8 L774.9,229.4 L760.4,218.0Z" fill="url(#gA)" />
<path d="M795.2,256.5 L801.2,261.2 L807.3,266.0 L813.3,270.8 L819.3,275.5 L826.9,275.5 L820.9,270.8 L814.9,266.0 L808.9,261.2 L802.8,256.5Z" fill="url(#gLite)" />
<path d="M817.8,261.5 L830.5,271.6 L843.3,281.8 L856.0,291.9 L868.8,302.0 L881.1,302.0 L868.4,291.9 L855.6,281.8 L842.8,271.6 L830.1,261.5Z" fill="url(#gStreak)" />
<path d="M768.4,255.5 L783.3,267.1 L798.1,278.8 L812.9,290.4 L827.6,302.0 L839.9,302.0 L825.3,290.4 L810.6,278.8 L795.8,267.1 L780.9,255.5Z" fill="url(#gDl)" />
<path d="M780.4,255.5 L795.3,267.1 L810.1,278.8 L824.8,290.4 L839.4,302.0 L847.0,302.0 L832.4,290.4 L817.7,278.8 L803.0,267.1 L788.1,255.5Z" fill="url(#gG1l)" />
<path d="M786.4,254.5 L801.5,266.4 L816.6,278.2 L831.6,290.1 L846.5,302.0 L852.2,302.0 L837.3,290.1 L822.3,278.2 L807.3,266.4 L792.1,254.5Z" fill="url(#gAl)" />
<path d="M790.2,258.5 L809.1,256.9 L813.1,261.1 L796.2,262.1Z" fill="#0a0a12" />
<path d="M850.1,218.0 L864.4,229.4 L878.8,240.8 L893.0,252.1 L907.1,263.5 L933.2,263.5 L919.1,252.1 L905.0,240.8 L890.8,229.4 L876.6,218.0Z" fill="url(#gLand)" />
<path d="M838.7,218.0 L853.1,229.4 L867.4,240.8 L881.7,252.1 L895.9,263.5 L907.6,263.5 L893.4,252.1 L879.3,240.8 L864.9,229.4 L850.6,218.0Z" fill="url(#gD)" />
<path d="M832.6,218.0 L846.9,229.4 L861.3,240.8 L875.6,252.1 L889.8,263.5 L896.3,263.5 L882.1,252.1 L867.8,240.8 L853.5,229.4 L839.1,218.0Z" fill="url(#gG1)" />
<path d="M826.0,218.0 L836.2,226.1 L846.4,234.2 L856.7,242.4 L866.9,250.5 L871.2,250.5 L860.9,242.4 L850.7,234.2 L840.5,226.1 L830.2,218.0Z" fill="#c4c4ce" opacity="0.4"/>
<path d="M829.6,218.0 L844.0,229.4 L858.3,240.8 L872.6,252.1 L886.9,263.5 L890.3,263.5 L876.1,252.1 L861.7,240.8 L847.4,229.4 L833.1,218.0Z" fill="url(#gA)" />
<path d="M867.4,256.5 L873.3,261.2 L879.3,266.0 L885.3,270.8 L891.2,275.5 L898.6,275.5 L892.7,270.8 L886.8,266.0 L880.9,261.2 L874.9,256.5Z" fill="url(#gLite)" />
<path d="M889.7,261.5 L902.2,271.6 L914.8,281.8 L927.4,291.9 L940.0,302.0 L952.1,302.0 L939.5,291.9 L927.0,281.8 L914.4,271.6 L901.8,261.5Z" fill="url(#gStreak)" />
<path d="M841.0,255.5 L855.6,267.1 L870.3,278.8 L884.9,290.4 L899.3,302.0 L911.5,302.0 L897.0,290.4 L882.6,278.8 L868.0,267.1 L853.3,255.5Z" fill="url(#gDl)" />
<path d="M852.8,255.5 L867.5,267.1 L882.1,278.8 L896.6,290.4 L911.0,302.0 L918.5,302.0 L904.0,290.4 L889.6,278.8 L875.1,267.1 L860.4,255.5Z" fill="url(#gG1l)" />
<path d="M858.7,254.5 L873.6,266.4 L888.5,278.2 L903.3,290.1 L918.0,302.0 L923.6,302.0 L908.9,290.1 L894.1,278.2 L879.3,266.4 L864.4,254.5Z" fill="url(#gAl)" />
<path d="M862.5,258.5 L881.1,256.9 L885.1,261.1 L868.5,262.1Z" fill="#0a0a12" />
<path d="M921.6,218.0 L935.7,229.4 L949.8,240.8 L963.8,252.1 L977.7,263.5 L1003.5,263.5 L989.6,252.1 L975.7,240.8 L961.7,229.4 L947.7,218.0Z" fill="url(#gLand)" />
<path d="M910.3,218.0 L924.5,229.4 L938.6,240.8 L952.7,252.1 L966.7,263.5 L978.2,263.5 L964.3,252.1 L950.3,240.8 L936.2,229.4 L922.0,218.0Z" fill="url(#gD)" />
<path d="M904.3,218.0 L918.4,229.4 L932.5,240.8 L946.7,252.1 L960.7,263.5 L967.1,263.5 L953.1,252.1 L939.0,240.8 L924.9,229.4 L910.7,218.0Z" fill="url(#gG1)" />
<path d="M897.7,218.0 L907.8,226.1 L917.9,234.2 L928.0,242.4 L938.1,250.5 L942.3,250.5 L932.2,242.4 L922.1,234.2 L912.0,226.1 L901.9,218.0Z" fill="#c4c4ce" opacity="0.4"/>
<path d="M901.4,218.0 L915.5,229.4 L929.6,240.8 L943.8,252.1 L957.8,263.5 L961.2,263.5 L947.1,252.1 L933.0,240.8 L918.9,229.4 L904.7,218.0Z" fill="url(#gA)" />
<path d="M938.6,256.5 L944.5,261.2 L950.4,266.0 L956.2,270.8 L962.0,275.5 L969.4,275.5 L963.6,270.8 L957.8,266.0 L951.9,261.2 L946.0,256.5Z" fill="url(#gLite)" />
<path d="M960.5,261.5 L973.0,271.6 L985.4,281.8 L997.8,291.9 L1010.2,302.0 L1022.1,302.0 L1009.7,291.9 L997.3,281.8 L984.9,271.6 L972.5,261.5Z" fill="url(#gStreak)" />
<path d="M912.6,255.5 L927.0,267.1 L941.5,278.8 L955.9,290.4 L970.1,302.0 L982.1,302.0 L967.8,290.4 L953.6,278.8 L939.2,267.1 L924.7,255.5Z" fill="url(#gDl)" />
<path d="M924.2,255.5 L938.7,267.1 L953.1,278.8 L967.4,290.4 L981.6,302.0 L989.0,302.0 L974.7,290.4 L960.5,278.8 L946.2,267.1 L931.7,255.5Z" fill="url(#gG1l)" />
<path d="M930.0,254.5 L944.8,266.4 L959.4,278.2 L974.0,290.1 L988.5,302.0 L994.0,302.0 L979.5,290.1 L964.9,278.2 L950.4,266.4 L935.6,254.5Z" fill="url(#gAl)" />
<path d="M933.7,258.5 L952.0,256.9 L956.0,261.1 L939.7,262.1Z" fill="#0a0a12" />
<path d="M992.0,218.0 L1005.9,229.4 L1019.9,240.8 L1033.8,252.1 L1047.7,263.5 L1073.5,263.5 L1059.6,252.1 L1045.7,240.8 L1031.7,229.4 L1017.8,218.0Z" fill="url(#gLand)" />
<path d="M980.9,218.0 L994.9,229.4 L1008.8,240.8 L1022.7,252.1 L1036.7,263.5 L1048.2,263.5 L1034.3,252.1 L1020.3,240.8 L1006.4,229.4 L992.5,218.0Z" fill="url(#gD)" />
<path d="M975.0,218.0 L988.9,229.4 L1002.8,240.8 L1016.8,252.1 L1030.7,263.5 L1037.1,263.5 L1023.1,252.1 L1009.2,240.8 L995.2,229.4 L981.3,218.0Z" fill="url(#gG1)" />
<path d="M968.5,218.0 L978.5,226.1 L988.4,234.2 L998.4,242.4 L1008.3,250.5 L1012.5,250.5 L1002.5,242.4 L992.6,234.2 L982.6,226.1 L972.7,218.0Z" fill="#c4c4ce" opacity="0.4"/>
<path d="M972.1,218.0 L986.0,229.4 L1000.0,240.8 L1013.9,252.1 L1027.8,263.5 L1031.2,263.5 L1017.2,252.1 L1003.3,240.8 L989.4,229.4 L975.4,218.0Z" fill="url(#gA)" />
<path d="M1008.8,256.5 L1014.6,261.2 L1020.4,266.0 L1026.2,270.8 L1032.0,275.5 L1039.4,275.5 L1033.6,270.8 L1027.8,266.0 L1022.0,261.2 L1016.1,256.5Z" fill="url(#gLite)" />
<path d="M1030.5,261.5 L1043.0,271.6 L1055.4,281.8 L1067.8,291.9 L1080.2,302.0 L1092.1,302.0 L1079.7,291.9 L1067.3,281.8 L1054.9,271.6 L1042.5,261.5Z" fill="url(#gStreak)" />
<path d="M983.1,255.5 L997.4,267.1 L1011.6,278.8 L1025.9,290.4 L1040.1,302.0 L1052.1,302.0 L1037.8,290.4 L1023.6,278.8 L1009.3,267.1 L995.1,255.5Z" fill="url(#gDl)" />
<path d="M994.6,255.5 L1008.9,267.1 L1023.1,278.8 L1037.4,290.4 L1051.6,302.0 L1059.0,302.0 L1044.7,290.4 L1030.5,278.8 L1016.3,267.1 L1002.0,255.5Z" fill="url(#gG1l)" />
<path d="M1000.3,254.5 L1014.9,266.4 L1029.4,278.2 L1044.0,290.1 L1058.5,302.0 L1064.0,302.0 L1049.5,290.1 L1034.9,278.2 L1020.4,266.4 L1005.9,254.5Z" fill="url(#gAl)" />
<path d="M1003.9,258.5 L1022.0,256.9 L1026.0,261.1 L1009.9,262.1Z" fill="#0a0a12" />
<path d="M1062.0,218.0 L1075.9,229.4 L1089.9,240.8 L1103.8,252.1 L1117.7,263.5 L1143.5,263.5 L1129.6,252.1 L1115.7,240.8 L1101.7,229.4 L1087.8,218.0Z" fill="url(#gLand)" />
<path d="M1050.9,218.0 L1064.9,229.4 L1078.8,240.8 L1092.7,252.1 L1106.7,263.5 L1118.2,263.5 L1104.3,252.1 L1090.3,240.8 L1076.4,229.4 L1062.5,218.0Z" fill="url(#gD)" />
<path d="M1045.0,218.0 L1058.9,229.4 L1072.8,240.8 L1086.8,252.1 L1100.7,263.5 L1107.1,263.5 L1093.1,252.1 L1079.2,240.8 L1065.2,229.4 L1051.3,218.0Z" fill="url(#gG1)" />
<path d="M1038.5,218.0 L1048.5,226.1 L1058.4,234.2 L1068.4,242.4 L1078.3,250.5 L1082.5,250.5 L1072.5,242.4 L1062.6,234.2 L1052.6,226.1 L1042.7,218.0Z" fill="#c4c4ce" opacity="0.4"/>
<path d="M1042.1,218.0 L1056.0,229.4 L1070.0,240.8 L1083.9,252.1 L1097.8,263.5 L1101.2,263.5 L1087.2,252.1 L1073.3,240.8 L1059.4,229.4 L1045.4,218.0Z" fill="url(#gA)" />
<path d="M1078.8,256.5 L1084.6,261.2 L1090.4,266.0 L1096.2,270.8 L1102.0,275.5 L1109.4,275.5 L1103.6,270.8 L1097.8,266.0 L1092.0,261.2 L1086.1,256.5Z" fill="url(#gLite)" />
<path d="M1100.5,261.5 L1113.0,271.6 L1125.4,281.8 L1137.8,291.9 L1150.2,302.0 L1162.1,302.0 L1149.7,291.9 L1137.3,281.8 L1124.9,271.6 L1112.5,261.5Z" fill="url(#gStreak)" />
<path d="M1053.1,255.5 L1067.4,267.1 L1081.6,278.8 L1095.9,290.4 L1110.1,302.0 L1122.1,302.0 L1107.8,290.4 L1093.6,278.8 L1079.3,267.1 L1065.1,255.5Z" fill="url(#gDl)" />
<path d="M1064.6,255.5 L1078.9,267.1 L1093.1,278.8 L1107.4,290.4 L1121.6,302.0 L1129.0,302.0 L1114.7,290.4 L1100.5,278.8 L1086.3,267.1 L1072.0,255.5Z" fill="url(#gG1l)" />
<path d="M1070.3,254.5 L1084.9,266.4 L1099.4,278.2 L1114.0,290.1 L1128.5,302.0 L1134.0,302.0 L1119.5,290.1 L1104.9,278.2 L1090.4,266.4 L1075.9,254.5Z" fill="url(#gAl)" />
<path d="M1073.9,258.5 L1092.0,256.9 L1096.0,261.1 L1079.9,262.1Z" fill="#0a0a12" />
<path d="M1132.0,218.0 L1145.9,229.4 L1159.9,240.8 L1173.8,252.1 L1187.7,263.5 L1213.5,263.5 L1199.6,252.1 L1185.7,240.8 L1171.7,229.4 L1157.8,218.0Z" fill="url(#gLand)" />
<path d="M1120.9,218.0 L1134.9,229.4 L1148.8,240.8 L1162.7,252.1 L1176.7,263.5 L1188.2,263.5 L1174.3,252.1 L1160.3,240.8 L1146.4,229.4 L1132.5,218.0Z" fill="url(#gD)" />
<path d="M1115.0,218.0 L1128.9,229.4 L1142.8,240.8 L1156.8,252.1 L1170.7,263.5 L1177.1,263.5 L1163.1,252.1 L1149.2,240.8 L1135.2,229.4 L1121.3,218.0Z" fill="url(#gG1)" />
<path d="M1108.5,218.0 L1118.5,226.1 L1128.4,234.2 L1138.4,242.4 L1148.3,250.5 L1152.5,250.5 L1142.5,242.4 L1132.6,234.2 L1122.6,226.1 L1112.7,218.0Z" fill="#c4c4ce" opacity="0.4"/>
<path d="M1112.1,218.0 L1126.0,229.4 L1140.0,240.8 L1153.9,252.1 L1167.8,263.5 L1171.2,263.5 L1157.2,252.1 L1143.3,240.8 L1129.4,229.4 L1115.4,218.0Z" fill="url(#gA)" />
<path d="M1148.8,256.5 L1154.6,261.2 L1160.4,266.0 L1166.2,270.8 L1172.0,275.5 L1179.4,275.5 L1173.6,270.8 L1167.8,266.0 L1162.0,261.2 L1156.1,256.5Z" fill="url(#gLite)" />
<path d="M1170.5,261.5 L1183.0,271.6 L1195.4,281.8 L1207.8,291.9 L1220.2,302.0 L1232.1,302.0 L1219.7,291.9 L1207.3,281.8 L1194.9,271.6 L1182.5,261.5Z" fill="url(#gStreak)" />
<path d="M1123.1,255.5 L1137.4,267.1 L1151.6,278.8 L1165.9,290.4 L1180.1,302.0 L1192.1,302.0 L1177.8,290.4 L1163.6,278.8 L1149.3,267.1 L1135.1,255.5Z" fill="url(#gDl)" />
<path d="M1134.6,255.5 L1148.9,267.1 L1163.1,278.8 L1177.4,290.4 L1191.6,302.0 L1199.0,302.0 L1184.7,290.4 L1170.5,278.8 L1156.3,267.1 L1142.0,255.5Z" fill="url(#gG1l)" />
<path d="M1140.3,254.5 L1154.9,266.4 L1169.4,278.2 L1184.0,290.1 L1198.5,302.0 L1204.0,302.0 L1189.5,290.1 L1174.9,278.2 L1160.4,266.4 L1145.9,254.5Z" fill="url(#gAl)" />
<path d="M1143.9,258.5 L1162.0,256.9 L1166.0,261.1 L1149.9,262.1Z" fill="#0a0a12" />
<path d="M1202.0,218.0 L1215.9,229.4 L1229.9,240.8 L1233.0,252.1 L1233.0,263.5 L1233.0,263.5 L1233.0,252.1 L1233.0,240.8 L1233.0,229.4 L1227.8,218.0Z" fill="url(#gLand)" />
<path d="M1190.9,218.0 L1204.9,229.4 L1218.8,240.8 L1232.7,252.1 L1233.0,263.5 L1233.0,263.5 L1233.0,252.1 L1230.3,240.8 L1216.4,229.4 L1202.5,218.0Z" fill="url(#gD)" />
<path d="M1185.0,218.0 L1198.9,229.4 L1212.8,240.8 L1226.8,252.1 L1233.0,263.5 L1233.0,263.5 L1233.0,252.1 L1219.2,240.8 L1205.2,229.4 L1191.3,218.0Z" fill="url(#gG1)" />
<path d="M1178.5,218.0 L1188.5,226.1 L1198.4,234.2 L1208.4,242.4 L1218.3,250.5 L1222.5,250.5 L1212.5,242.4 L1202.6,234.2 L1192.6,226.1 L1182.7,218.0Z" fill="#c4c4ce" opacity="0.4"/>
<path d="M1182.1,218.0 L1196.0,229.4 L1210.0,240.8 L1223.9,252.1 L1233.0,263.5 L1233.0,263.5 L1227.2,252.1 L1213.3,240.8 L1199.4,229.4 L1185.4,218.0Z" fill="url(#gA)" />
<path d="M1218.8,256.5 L1224.6,261.2 L1230.4,266.0 L1233.0,270.8 L1233.0,275.5 L1233.0,275.5 L1233.0,270.8 L1233.0,266.0 L1232.0,261.2 L1226.1,256.5Z" fill="url(#gLite)" />
<path d="M1233.0,261.5 L1233.0,271.6 L1233.0,281.8 L1233.0,291.9 L1233.0,302.0 L1233.0,302.0 L1233.0,291.9 L1233.0,281.8 L1233.0,271.6 L1233.0,261.5Z" fill="url(#gStreak)" />
<path d="M1193.1,255.5 L1207.4,267.1 L1221.6,278.8 L1233.0,290.4 L1233.0,302.0 L1233.0,302.0 L1233.0,290.4 L1233.0,278.8 L1219.3,267.1 L1205.1,255.5Z" fill="url(#gDl)" />
<path d="M1204.6,255.5 L1218.9,267.1 L1233.0,278.8 L1233.0,290.4 L1233.0,302.0 L1233.0,302.0 L1233.0,290.4 L1233.0,278.8 L1226.3,267.1 L1212.0,255.5Z" fill="url(#gG1l)" />
<path d="M1210.3,254.5 L1224.9,266.4 L1233.0,278.2 L1233.0,290.1 L1233.0,302.0 L1233.0,302.0 L1233.0,290.1 L1233.0,278.2 L1230.4,266.4 L1215.9,254.5Z" fill="url(#gAl)" />
<path d="M1213.9,258.5 L1230.0,256.9 L1234.0,261.1 L1219.9,262.1Z" fill="#0a0a12" />
<path d="M160.2,218.0 L198.1,218.0 L215.5,234.0 L186.1,234.0Z" fill="url(#gLand)" />
<path d="M113.8,223.0 L121.2,218.0 L161.2,218.0 L164.7,236.5 L142.3,236.5 L129.6,233.5 L113.8,227.5Z" fill="url(#gWedge)" />
<path d="M139.6,221.5 L143.8,221.5 L160.6,232.0 L157.0,232.0Z" fill="#9c9ca8" opacity="0.7"/>
<path d="M239.6,218.0 L277.0,218.0 L294.3,234.0 L265.2,234.0Z" fill="url(#gLand)" />
<path d="M193.9,223.0 L201.2,218.0 L240.7,218.0 L244.1,236.5 L221.9,236.5 L209.5,233.5 L193.9,227.5Z" fill="url(#gWedge)" />
<path d="M219.3,221.5 L223.5,221.5 L240.1,232.0 L236.5,232.0Z" fill="#9c9ca8" opacity="0.7"/>
<path d="M319.7,218.0 L358.1,218.0 L375.8,234.0 L345.9,234.0Z" fill="url(#gLand)" />
<path d="M272.8,223.0 L280.3,218.0 L320.8,218.0 L324.3,236.5 L301.6,236.5 L288.8,233.5 L272.8,227.5Z" fill="url(#gWedge)" />
<path d="M298.9,221.5 L303.2,221.5 L320.2,232.0 L316.5,232.0Z" fill="#9c9ca8" opacity="0.7"/>
<path d="M399.1,218.0 L436.0,218.0 L453.1,234.0 L424.3,234.0Z" fill="url(#gLand)" />
<path d="M353.9,223.0 L361.1,218.0 L400.1,218.0 L403.5,236.5 L381.6,236.5 L369.3,233.5 L353.9,227.5Z" fill="url(#gWedge)" />
<path d="M379.1,221.5 L383.2,221.5 L399.6,232.0 L396.0,232.0Z" fill="#9c9ca8" opacity="0.7"/>
<path d="M476.5,218.0 L513.0,218.0 L529.9,234.0 L501.5,234.0Z" fill="url(#gLand)" />
<path d="M432.0,223.0 L439.1,218.0 L477.6,218.0 L480.9,236.5 L459.3,236.5 L447.2,233.5 L432.0,227.5Z" fill="url(#gWedge)" />
<path d="M456.8,221.5 L460.8,221.5 L477.0,232.0 L473.5,232.0Z" fill="#9c9ca8" opacity="0.7"/>
<path d="M553.0,218.0 L589.0,218.0 L605.6,234.0 L577.6,234.0Z" fill="url(#gLand)" />
<path d="M509.0,223.0 L516.0,218.0 L554.0,218.0 L557.3,236.5 L536.0,236.5 L524.0,233.5 L509.0,227.5Z" fill="url(#gWedge)" />
<path d="M533.5,221.5 L537.5,221.5 L553.5,232.0 L550.0,232.0Z" fill="#9c9ca8" opacity="0.7"/>
<path d="M628.5,218.0 L664.0,218.0 L680.4,234.0 L652.8,234.0Z" fill="url(#gLand)" />
<path d="M585.0,223.0 L591.9,218.0 L629.4,218.0 L632.7,236.5 L611.7,236.5 L599.8,233.5 L585.0,227.5Z" fill="url(#gWedge)" />
<path d="M609.2,221.5 L613.2,221.5 L628.9,232.0 L625.5,232.0Z" fill="#9c9ca8" opacity="0.7"/>
<path d="M702.9,218.0 L738.0,218.0 L754.2,234.0 L726.9,234.0Z" fill="url(#gLand)" />
<path d="M660.1,223.0 L666.9,218.0 L703.9,218.0 L707.1,236.5 L686.4,236.5 L674.7,233.5 L660.1,227.5Z" fill="url(#gWedge)" />
<path d="M683.9,221.5 L687.8,221.5 L703.4,232.0 L700.0,232.0Z" fill="#9c9ca8" opacity="0.7"/>
<path d="M776.4,218.0 L811.0,218.0 L826.9,234.0 L800.0,234.0Z" fill="url(#gLand)" />
<path d="M734.1,223.0 L740.8,218.0 L777.3,218.0 L780.5,236.5 L760.1,236.5 L748.5,233.5 L734.1,227.5Z" fill="url(#gWedge)" />
<path d="M757.7,221.5 L761.5,221.5 L776.8,232.0 L773.5,232.0Z" fill="#9c9ca8" opacity="0.7"/>
<path d="M848.8,218.0 L882.9,218.0 L898.7,234.0 L872.2,234.0Z" fill="url(#gLand)" />
<path d="M807.2,223.0 L813.8,218.0 L849.8,218.0 L852.9,236.5 L832.7,236.5 L821.4,233.5 L807.2,227.5Z" fill="url(#gWedge)" />
<path d="M830.4,221.5 L834.2,221.5 L849.3,232.0 L846.0,232.0Z" fill="#9c9ca8" opacity="0.7"/>
<path d="M920.3,218.0 L953.9,218.0 L969.5,234.0 L943.3,234.0Z" fill="url(#gLand)" />
<path d="M879.2,223.0 L885.7,218.0 L921.2,218.0 L924.3,236.5 L904.4,236.5 L893.2,233.5 L879.2,227.5Z" fill="url(#gWedge)" />
<path d="M902.1,221.5 L905.8,221.5 L920.7,232.0 L917.5,232.0Z" fill="#9c9ca8" opacity="0.7"/>
<path d="M990.8,218.0 L1023.9,218.0 L1039.2,234.0 L1013.4,234.0Z" fill="url(#gLand)" />
<path d="M950.2,223.0 L956.7,218.0 L991.7,218.0 L994.7,236.5 L975.1,236.5 L964.1,233.5 L950.2,227.5Z" fill="url(#gWedge)" />
<path d="M972.8,221.5 L976.5,221.5 L991.2,232.0 L988.0,232.0Z" fill="#9c9ca8" opacity="0.7"/>
<path d="M1060.8,218.0 L1093.9,218.0 L1109.2,234.0 L1083.4,234.0Z" fill="url(#gLand)" />
<path d="M1020.2,223.0 L1026.7,218.0 L1061.7,218.0 L1064.7,236.5 L1045.1,236.5 L1034.1,233.5 L1020.2,227.5Z" fill="url(#gWedge)" />
<path d="M1042.8,221.5 L1046.5,221.5 L1061.2,232.0 L1058.0,232.0Z" fill="#9c9ca8" opacity="0.7"/>
<path d="M1130.8,218.0 L1163.9,218.0 L1179.2,234.0 L1153.4,234.0Z" fill="url(#gLand)" />
<path d="M1090.2,223.0 L1096.7,218.0 L1131.7,218.0 L1134.7,236.5 L1115.1,236.5 L1104.1,233.5 L1090.2,227.5Z" fill="url(#gWedge)" />
<path d="M1112.8,221.5 L1116.5,221.5 L1131.2,232.0 L1128.0,232.0Z" fill="#9c9ca8" opacity="0.7"/>
</g>
<g filter="url(#fSoft2)">
<path d="M131.7,236.5 L145.4,237.0 L152.8,244.5 L140.2,244.0Z" fill="#ffffff" opacity="0.95"/>
<path d="M211.6,236.5 L225.1,237.0 L232.3,244.5 L219.9,244.0Z" fill="#ffffff" opacity="0.95"/>
<path d="M290.9,236.5 L304.8,237.0 L312.2,244.5 L299.4,244.0Z" fill="#ffffff" opacity="0.95"/>
<path d="M371.4,236.5 L384.7,237.0 L391.9,244.5 L379.6,244.0Z" fill="#ffffff" opacity="0.95"/>
<path d="M449.2,236.5 L462.4,237.0 L469.4,244.5 L457.3,244.0Z" fill="#ffffff" opacity="0.95"/>
<path d="M526.0,236.5 L539.0,237.0 L546.0,244.5 L534.0,244.0Z" fill="#ffffff" opacity="0.95"/>
<path d="M601.8,236.5 L614.6,237.0 L621.6,244.5 L609.7,244.0Z" fill="#ffffff" opacity="0.95"/>
<path d="M676.6,236.5 L689.3,237.0 L696.1,244.5 L684.4,244.0Z" fill="#ffffff" opacity="0.95"/>
<path d="M750.4,236.5 L762.9,237.0 L769.7,244.5 L758.1,244.0Z" fill="#ffffff" opacity="0.95"/>
<path d="M823.3,236.5 L835.6,237.0 L842.2,244.5 L830.8,244.0Z" fill="#ffffff" opacity="0.95"/>
<path d="M895.1,236.5 L907.2,237.0 L913.8,244.5 L902.6,244.0Z" fill="#ffffff" opacity="0.95"/>
<path d="M965.9,236.5 L977.9,237.0 L984.3,244.5 L973.3,244.0Z" fill="#ffffff" opacity="0.95"/>
<path d="M1035.9,236.5 L1047.9,237.0 L1054.3,244.5 L1043.3,244.0Z" fill="#ffffff" opacity="0.95"/>
<path d="M1105.9,236.5 L1117.9,237.0 L1124.3,244.5 L1113.3,244.0Z" fill="#ffffff" opacity="0.95"/>
</g>
</g><g filter="url(#fSoft)">
  <!-- shank -->
  <path d="M1214,227 L1222,228.4 L1234,231 L1539.5,231.2 L1550,236.5 L1550,290 L1539.5,295.8 L1234,296 L1222,297.6 L1214,299 Z" fill="url(#gsShank)"/>
  <!-- shadow near collar step -->
  <path d="M1214,227 L1222,228.4 L1234,231 L1280,231.2 L1280,295.9 L1234,296 L1222,297.6 L1214,299 Z" fill="url(#gsStepShade)"/>
  <!-- end chamfer -->
  <path d="M1539.6,231.5 L1550,236.5 L1550,266 L1539.6,266 Z" fill="#0b0b12"/>
  <path d="M1539.6,266 L1550,266 L1550,290 L1539.6,295.6 Z" fill="url(#gsEndLow)"/>
  <path d="M1538.6,231.5 L1540.8,231.5 L1540.8,295.6 L1538.6,295.6 Z" fill="#5a5a66" opacity="0.6"/>
  <!-- slot -->
  <rect x="1402.5" y="238.6" width="126.5" height="39.6" rx="19.8" fill="url(#gsSlotRim)"/>
  <rect x="1407.5" y="240.6" width="117.5" height="36" rx="18" fill="url(#gsSlotIn)"/>
  <path d="M1413,254.8 L1518,254.8 L1518,258 L1413,258 Z" fill="#0c0c14"/>
  <path d="M1413,257 Q1411,266 1422,274.6 L1510,274.6 Q1520,268 1518,257 Z" fill="#24242e"/>
  <rect x="1420.5" y="259.2" width="93" height="14.6" rx="5" fill="url(#gsSlotFloor)"/>
  <!-- collar -->
  <path d="M1066,225.2 L1072,229.2 L1082.3,239.5 L1095.1,252.3 L1106.7,267.7 L1115.6,279.2 L1115.8,283 L1091,283.4 L1081,289 L1079,295 L1085,299.7 L1215.6,299.7 L1215.6,225.2 Z" fill="url(#gsCollar)"/>
  <path d="M1052,223 L1066,224.6 L1072,229.2 L1082.3,239.5 L1095.1,252.3 L1106.7,267.7 L1115.6,279.2 L1114.5,283 L1108,283 L1093.8,263.8 L1078.5,248.5 L1062,233 Z" fill="url(#gsTongue)"/>
  <path d="M1066,224.6 L1072,229.2 L1082.3,239.5 L1095.1,252.3 L1106.7,267.7 L1115.6,279.6" fill="none" stroke="#2a2a36" stroke-width="2.6"/>
  <path d="M1053,224.5 L1062,233 L1078.5,248.5 L1093.8,263.8 L1110,282.6" fill="none" stroke="#15151d" stroke-width="2.2"/>
  <path d="M1092,283 L1115,282.6" fill="none" stroke="#4a4a56" stroke-width="1.6"/>
  <rect x="1212.6" y="225.2" width="3.4" height="74.5" fill="#2a2a36" opacity="0.35"/>
  <ellipse cx="1102.8" cy="227.6" rx="12" ry="2.3" fill="#54545f"/>
  <ellipse cx="1104" cy="228" rx="8" ry="1.2" fill="#9a9aa4"/>
</g>
<g transform="translate(100,210) scale(0.076923)" filter="url(#fHead)">
  <!-- opaque base -->
  <path d="M55,650 L235,205 L295,75 L330,66 L760,66 L778,125 L885,125 L900,245 L1010,520 L1120,760 L1000,1000 L880,1185 L760,1215 L330,1228 L262,1150 L200,950 Z" fill="url(#ghBody)"/>
  <!-- upper body panel -->
  <path d="M400,165 L770,158 L880,235 L990,405 L370,410 Z" fill="url(#ghUpper)"/>
  <!-- center dark band -->
  <path d="M360,405 L990,400 L1090,620 L1120,700 L820,640 L700,625 L330,690 L300,600 Z" fill="url(#ghMid)"/>
  <path d="M380,438 L1000,438 L1020,478 L380,478 Z" fill="#9494a0" opacity="0.75"/>
  <!-- lower region: white field -->
  <path d="M330,700 L720,650 L840,660 L1110,720 L1010,1000 L860,1030 L390,990 Z" fill="#f4f4f7"/>
  <!-- side tab -->
  <path d="M335,700 L700,648 Q830,660 822,780 Q818,895 720,905 L440,905 L340,880 Z" fill="url(#ghTab)"/>
  <path d="M700,648 Q830,660 822,780 Q818,895 720,905" fill="none" stroke="#7c7c88" stroke-width="26"/>
  <path d="M690,675 Q775,690 770,780 Q765,870 700,885" fill="none" stroke="#ffffff" stroke-width="22" opacity="0.9"/>
  <!-- shadow diagonal from centre into flute -->
  <path d="M820,560 L1010,560 L1180,800 L1130,900 L1000,760 Z" fill="#4c4c58" opacity="0.85"/>
  <!-- bottom plate -->
  <path d="M385,985 L850,1018 L855,1188 L760,1216 L430,1222 Z" fill="url(#ghPlate)"/>
  <path d="M385,985 L850,1018" stroke="#9a9aa6" stroke-width="14" fill="none"/>
  <path d="M862,1035 L1210,1105 L1010,1172 L862,1186 Z" fill="#7a7a86"/>
  <!-- top plate -->
  <path d="M335,70 L760,66 L778,125 L745,150 L430,152 L385,135 Z" fill="#f2f2f6"/>
  <path d="M430,152 L745,150 L770,128" stroke="#2c2c36" stroke-width="22" fill="none"/>
  <path d="M440,195 L780,190" stroke="#e6e6ec" stroke-width="40" fill="none"/>
  <!-- front carbide facets -->
  <path d="M55,650 L235,205 L295,75 L345,70 L330,300 L290,560 L250,610 Z" fill="url(#ghFacetU)"/>
  <path d="M55,650 L250,655 L335,700 L345,1000 L430,1222 L330,1228 L262,1150 L200,950 Z" fill="url(#ghFacetL)"/>
  <path d="M262,700 L330,720 L340,1000 L400,1190 L345,1200 L290,1100 Z" fill="#d4d4da"/>
  <!-- dark vertical band of carbide -->
  <path d="M288,80 L392,88 L370,400 L400,555 L445,600 L420,690 L300,695 L245,610 L290,480 L325,250 Z" fill="url(#ghBandV)"/>
  <path d="M340,100 L375,100 L345,420 L318,520 Z" fill="#8c8c98" opacity="0.8"/>
  <!-- black spot -->
  <path d="M215,600 L290,585 L305,680 L235,695 Z" fill="#07070c"/>
</g>

</g>

<!-- ===== icon boxes ===== -->
<g id="boxes" fill="#fff" stroke="#e5624a" stroke-width="4.2">
  <rect x="5.6" y="780" width="199.6" height="199.4" rx="27.5"/>
  <rect x="225.6" y="780" width="199.6" height="199.4" rx="27.5"/>
  <rect x="445.6" y="780" width="199.6" height="199.4" rx="27.5"/>
  <rect x="665.3" y="780" width="199.6" height="199.4" rx="27.5"/>
  <rect x="1153.4" y="780" width="400.7" height="447.1" rx="29"/>
</g>

<g id="icon1">
<clipPath id="cpBox1"><rect x="7.7" y="782.1" width="195.4" height="195.2" rx="25.4"/></clipPath>
<rect x="5" y="913" width="201" height="70" fill="#082c56" clip-path="url(#cpBox1)"/>
<rect x="67" y="786.3" width="75.8" height="121.9" rx="37.9" ry="39.5" fill="#fff" stroke="#0a2d57" stroke-width="3.8"/>
<text x="77" y="845.3" font-size="38" font-weight="normal" fill="#0a2d57" stroke="#0a2d57" stroke-width="1.2" textLength="59.5" lengthAdjust="spacingAndGlyphs">SDS</text>
<text x="76.5" y="872.4" font-size="31" fill="#0a2d57" stroke="#0a2d57" stroke-width="1.2" textLength="55" lengthAdjust="spacingAndGlyphs">plus</text>
<text x="21.2" y="959.5" font-size="39" font-weight="bold" fill="#fff" textLength="166.6" lengthAdjust="spacingAndGlyphs">SDS-plus</text>

</g>
<g id="icon2">
<g transform="translate(215,770) scale(0.16923)" fill="none" stroke="#0a2d57" stroke-linejoin="round" stroke-linecap="round">
  <clipPath id="cpI2"><circle cx="652" cy="645" r="401"/></clipPath>
  <circle cx="652" cy="645" r="400" stroke-width="6.5"/>
  <g stroke-width="6.5" clip-path="url(#cpI2)">
    <path d="M272,470 H398 Q478,470 478,392 V276"/>
    <path d="M1032,470 H906 Q828,470 828,392 V276"/>
    <path d="M272,820 H398 Q478,820 478,898 V1012"/>
    <path d="M1032,820 H906 Q828,820 828,898 V1012"/>
  </g>
  <g stroke-width="14" fill="#fff">
    <!-- horizontal bar -->
    <path d="M236,540 L1075,540 L1085,605 L1066,752 L226,752 L215,690 Z"/>
    <!-- vertical bar -->
    <path d="M543,206 L600,194 L762,215 L762,1086 L700,1098 L543,1081 Z"/>
  </g>
  <g stroke-width="13">
    <!-- vertical bar inner lines -->
    <path d="M558,208 L585,278 L610,540"/>
    <path d="M590,200 L598,270 L700,215"/>
    <path d="M690,745 L720,1012 L746,1086"/>
    <path d="M720,1012 L600,1080"/>
    <path d="M705,1030 L720,1090"/>
    <!-- centre -->
    <path d="M543,590 L610,540 L762,592"/>
    <path d="M610,540 L626,606 L543,692"/>
    <path d="M626,606 L680,676 L762,596"/>
    <path d="M680,676 L690,745 L762,700"/>
    <path d="M543,702 L690,745"/>
    <!-- horizontal bar inner lines -->
    <path d="M226,716 L300,700 L470,688 Q510,690 535,712"/>
    <path d="M236,600 L296,700"/>
    <path d="M228,748 L296,702"/>
    <path d="M768,592 Q800,606 840,600 L1000,580 L1076,546"/>
    <path d="M1000,582 L1066,702"/>
    <path d="M1010,590 L1082,580"/>
  </g>
</g>

</g>
<g id="icon3">
<g transform="translate(435,770) scale(0.16923)">
  <clipPath id="cpI3"><circle cx="650" cy="648" r="484"/></clipPath>
  <g clip-path="url(#cpI3)" filter="url(#fI3)">
    <rect x="150" y="150" width="1000" height="1000" fill="#1b1a3c"/>
    <!-- red top -->
    <path d="M150,150 H1150 V470 Q1000,505 700,540 Q400,565 150,520 Z" fill="#a33330"/>
    <!-- thin red stripe behind text -->
    <path d="M150,585 Q400,640 700,615 Q950,590 1150,590 L1150,625 Q950,625 700,650 Q400,675 150,625 Z" fill="#a33330"/>
    <!-- drill bit -->
    <path d="M235,400 L335,285 L420,270 L700,285 L880,255 L905,300 L920,345 L885,405 L850,390 L640,385 L420,355 L300,395 Z" fill="#9190b2"/>
    <path d="M345,290 Q400,330 470,365 M470,272 Q560,320 640,380 M600,282 Q700,330 770,388 M720,282 Q800,300 850,388" stroke="#6f6e96" stroke-width="16" fill="none"/>
    <path d="M880,255 L905,300 L920,345 L885,405 L850,390 L865,330 Z" fill="#7a79a0"/>
    <path d="M880,255 L905,300 L920,345 L885,405" stroke="#2a2950" stroke-width="8" fill="none"/>
    <!-- wall plug -->
    <path d="M180,405 L400,400 L415,355 L470,385 L520,400 L545,385 L575,385 L585,400 L610,385 L640,385 L655,400 Q700,430 690,470 Q680,500 650,500 L640,490 L610,490 L600,500 L570,490 L540,490 L520,500 L470,510 L420,545 L430,505 L180,510 Z" fill="#ffffff"/>
    <path d="M250,458 L560,452 L690,458" stroke="#a33330" stroke-width="9" fill="none"/>
  </g>
  <text x="200" y="718" font-size="210" font-weight="bold" fill="#b3b1d4" stroke="#b3b1d4" stroke-width="9" textLength="533" lengthAdjust="spacingAndGlyphs">SICHER</text>
  <text x="742" y="718" font-size="210" font-weight="bold" fill="#ffffff" stroke="#ffffff" stroke-width="9" textLength="353" lengthAdjust="spacingAndGlyphs">SAFE</text>
  <!-- PGM logo -->
  <g fill="none" stroke="#ffffff" stroke-width="17" stroke-linecap="round">
    <path d="M545,800 Q470,860 472,920 Q475,990 545,1045"/>
    <path d="M765,800 Q822,860 818,925 Q812,990 740,1045"/>
    <path d="M545,800 Q560,830 640,812 Q730,790 765,800"/>
    <path d="M560,770 Q580,800 650,785 Q720,768 750,775"/>
    <path d="M545,1045 Q600,1010 660,1020 Q720,1032 740,1045"/>
    <path d="M540,1062 Q600,1040 660,1050 Q715,1062 725,1075"/>
  </g>
  <text x="513" y="946" font-size="78" font-weight="bold" fill="#b3b1d4" textLength="262" lengthAdjust="spacingAndGlyphs">PGM</text>
  <text x="778" y="802" font-size="34" font-weight="bold" fill="#d8d6ee">®</text>
</g>

</g>
<g id="icon4">
<g transform="translate(655,770) scale(0.16923)">
  <circle cx="650" cy="642" r="443" fill="#fff" stroke="#1d1d1b" stroke-width="70"/>
  <path id="arcTop" d="M432.1,438.8 A298,298 0 0 1 936.5,559.9" fill="none"/>
  <path id="arcBot" d="M387.1,919.1 A382,382 0 0 0 984.1,827.2" fill="none"/>
  <text font-size="119" font-weight="bold" fill="#1d1d1b"><textPath href="#arcTop" startOffset="0" textLength="619" lengthAdjust="spacingAndGlyphs">VIBRATION</textPath></text>
  <text font-size="119" font-weight="bold" fill="#1d1d1b"><textPath href="#arcBot" startOffset="0" textLength="690" lengthAdjust="spacing">CONTROL</textPath></text>
  <clipPath id="cpI4"><circle cx="650" cy="642" r="410"/></clipPath>
  <path clip-path="url(#cpI4)" d="M225,760 L255,695 L325,428 L395,888 L465,478 L540,850 L610,528 L680,815 L752,572 L820,780 L890,628 L960,755 L1025,668 L1075,715" fill="none" stroke="#b81c2c" stroke-width="36" stroke-linejoin="round" stroke-linecap="round"/>
</g>

</g>
<g id="tipphoto">
<clipPath id="cpTip"><rect x="862" y="830" width="278" height="148.8"/></clipPath>
<g clip-path="url(#cpTip)">
  <!-- blurry body -->
  <g filter="url(#fTipBlur)">
    <path d="M888,985 C897,968 903,959 910,961 C917,963 921,957 926,948 C930,938 934,933 940,935 C948,937 954,941 958,932 C964,915 970,907 977,908 C988,910 994,916 1000,906 C1004,893 1008,885 1014,882 L1050,880 L1075,940 L1060,952 L1016,985 Z" fill="#b6c5d8"/>
    <path d="M866,985 C874,974 884,970 894,974 L900,985 Z" fill="#c9d4e3" opacity="0.85"/>
    <!-- ridges -->
    <path d="M903,966 C910,962 918,968 926,985 L900,985 Z" fill="#a9bacf"/>
    <path d="M931,940 C940,934 950,940 960,950 C972,962 985,972 1000,985 L955,985 C945,975 935,960 931,940 Z" fill="#8fa4bd"/>
    <path d="M968,912 C980,906 992,916 1002,926 C1015,938 1030,944 1050,946 L1040,956 C1020,958 1000,950 985,940 C975,932 970,924 968,912 Z" fill="#8ea2bc"/>
    <path d="M944,962 C955,958 968,962 980,972 L992,985 L952,985 Z" fill="#7d93ae"/>
    <path d="M1003,900 C1012,905 1020,925 1040,940 L1062,944 L1050,900 Z" fill="#a3b5cb"/>
  </g>
  <!-- sharp head -->
  <g transform="translate(1000,830) scale(0.09229)" filter="url(#fTipHead)">
    <path d="M100,590 L380,420 L470,350 L560,330 L700,260 L810,230 L850,210 L890,250 L895,330 L1000,380 L1030,430 L1040,600 L1180,680 L1270,780 L1250,860 L1190,950 L1100,1010 L1000,1060 L850,1150 L700,1250 L620,1275 L420,1180 L180,1020 L70,900 L90,700 Z" fill="#94a8c0"/>
    <!-- left body & hollow -->
    <path d="M100,590 L380,540 L340,620 L380,700 L250,800 L90,700 Z" fill="#a9bbd0"/>
    <path d="M250,800 L380,700 L570,760 L540,880 L420,960 L280,960 L230,880 Z" fill="#7f94ae"/>
    <path d="M250,830 L340,800 L380,860 L300,900 Z" fill="#4f5f76"/>
    <path d="M260,950 L430,930 L420,975 L270,975 Z" fill="#3f4958"/>
    <!-- lower-left body light -->
    <path d="M70,900 L230,880 L280,960 L520,1000 L600,1060 L440,1150 L420,1180 L180,1020 Z" fill="#a6b8ce"/>
    <path d="M440,1150 L520,1100 L700,1160 L600,1225 Z" fill="#8196b0"/>
    <!-- dome -->
    <circle cx="735" cy="925" r="165" fill="url(#gtDome)"/>
    <!-- inner L blade (left) -->
    <path d="M340,620 L390,610 L730,690 L735,735 L690,790 L610,1060 L515,1000 L575,790 L560,760 L385,700 Z" fill="#6f849e"/>
    <path d="M390,612 L730,690 L690,760 L400,690 Z" fill="#b9c9db"/>
    <path d="M575,790 L690,790 L610,1050 L525,995 Z" fill="#a9bbd0"/>
    <path d="M340,620 L390,612 L400,690 L385,700 Z" fill="#8da1ba"/>
    <!-- upper-left blade -->
    <path d="M380,420 L400,415 L470,520 L380,545 Z" fill="#8a9fb9"/>
    <path d="M400,418 L440,400 L660,440 L800,480 L870,500 L960,575 L900,592 L640,545 L470,522 Z" fill="#bccbdd"/>
    <path d="M380,545 L470,522 L640,545 L900,592 L905,640 L640,600 L400,575 Z" fill="#7389a4"/>
    <path d="M440,400 L480,350 L700,392 L660,440 L560,428 Z" fill="#343a44"/>
    <!-- vertical blade (top) -->
    <path d="M700,262 L800,240 L812,478 L700,392 Z" fill="#7c92ac"/>
    <path d="M800,240 L850,212 L890,250 L882,450 L840,482 L812,478 Z" fill="#a9bbd0"/>
    <path d="M858,225 L890,252 L882,450 L860,468 Z" fill="#6f849e"/>
    <!-- right mass -->
    <path d="M895,330 L1000,380 L1030,430 L1040,600 L960,578 L870,500 L882,450 Z" fill="#8da1ba"/>
    <path d="M905,600 L960,578 L1040,600 L1180,680 L1270,780 L1250,860 L1190,950 L960,800 L900,800 Z" fill="#7389a4"/>
    <path d="M905,600 L925,600 L920,790 L900,800 Z" fill="#dfe7f0"/>
    <!-- lower right blade -->
    <path d="M900,800 L960,800 L1190,950 L1100,1010 L985,962 L880,1135 L812,1140 L800,1100 Z" fill="#b4c5d8"/>
    <path d="M985,962 L1100,1010 L1000,1060 L880,1135 Z" fill="#8196b0"/>
    <path d="M896,805 L806,1110" stroke="#f2f6fa" stroke-width="16" fill="none"/>
    <path d="M610,1060 L800,1100 L812,1140 L700,1250 L600,1225 L700,1160 Z" fill="#9db0c7"/>
  </g>
  <g filter="url(#fTipBlur)">
    <path d="M982,946 C1000,944 1030,950 1064,946 L1052,957 C1035,964 1015,960 1000,954 Z" fill="#15151b"/>
    <path d="M962,974 C985,970 1000,976 1016,977 L1012,984 L960,984 Z" fill="#1c1c24"/>
    <path d="M1000,925 C1010,935 1030,945 1060,944 L1040,950 L1000,946 Z" fill="#9fb2c8" opacity="0.9"/>
  </g>
  <g filter="url(#fTipBlur2)">
    <path d="M1006.5,915.5 L1012,913.5 L1026.5,931 L1020.5,934 Z" fill="#ffffff"/>
    <path d="M967.5,942.5 L973.5,940 L989.5,958 L983.5,961 Z" fill="#ffffff"/>
    <path d="M931,968 L936,967 L944,978 L938,979 Z" fill="#eef2f8" opacity="0.9"/>
  </g>
</g>

</g>
<g id="pack">
<g filter="url(#fPack)">
  <!-- drill below cap -->
  <rect x="1337.8" y="1040" width="29.2" height="84" fill="url(#gpShank)"/>
  <rect x="1338.5" y="1123" width="27" height="103" fill="url(#gpShank)"/>
  <rect x="1338" y="1122.4" width="29" height="1.3" fill="#b4b6b6" opacity="0.8"/>
  <g clip-path="url(#cpPackFl)">
    <rect x="1338.5" y="1150" width="27" height="76" fill="#6c6e6e"/>
    <g stroke-linecap="butt" fill="none">
      <path d="M1336,1182 L1356,1153 M1336,1203 L1368,1157 M1336,1224 L1368,1178 M1344,1234 L1368,1199" stroke="#d8dada" stroke-width="3.2"/>
      <path d="M1336,1188 L1358,1156 M1336,1209 L1368,1163 M1336,1230 L1368,1184 M1348,1236 L1368,1206" stroke="#3e4040" stroke-width="2.6"/>
      <path d="M1336,1194 L1360,1160 M1336,1215 L1368,1169 M1338,1234 L1368,1190" stroke="#a2a4a4" stroke-width="3"/>
    </g>
    <rect x="1338.5" y="1150" width="27" height="76" fill="url(#gpFlShade)"/>
  </g>
  <ellipse cx="1350" cy="1048.3" rx="3.2" ry="1.8" fill="#4a3a3a"/>
  <path d="M1346.5,1049.5 Q1348.5,1052 1351,1052" stroke="#f0f0f0" stroke-width="1" fill="none"/>
  <!-- red card -->
  <path d="M1309.6,788.2 H1398.4 Q1406.4,788.2 1406.4,796.2 V1010 L1371,1040 H1334.8 L1301.6,1010 V796.2 Q1301.6,788.2 1309.6,788.2 Z" fill="#d9423f"/>
  <rect x="1301.6" y="788.2" width="104.8" height="52" rx="8" fill="#cf3e3d"/>
  <ellipse cx="1318" cy="798.5" rx="6" ry="4.6" fill="#d85a58" opacity="0.8"/>
  <ellipse cx="1390" cy="798.5" rx="6" ry="4.6" fill="#d85a58" opacity="0.8"/>
  <!-- hang hole -->
  <rect x="1307.4" y="807.9" width="92.8" height="22.6" rx="11.3" fill="#fff"/>
  <path d="M1334,812 Q1339,810 1341,804 Q1344,796.8 1354.5,796.8 Q1365,796.8 1368,804 Q1370,810 1375,812 Z" fill="#fff"/>
  <!-- navy band -->
  <rect x="1300.8" y="837.7" width="106.2" height="109.6" fill="#1c3764"/>
  <path d="M1300.8,841 L1304,837.7 L1300.8,837.7 Z" fill="#cf3e3d"/>
  <rect x="1300.8" y="864.6" width="106.2" height="2.4" fill="#d8232e"/>
  <!-- red band -->
  <rect x="1300.8" y="947.2" width="106.2" height="16" fill="#d8232e"/>
  <!-- white label & red box -->
  <rect x="1310.8" y="873.7" width="49" height="37" rx="4.5" fill="#fff"/>
  <rect x="1362.9" y="873.7" width="34.9" height="37" rx="4.5" fill="#dc2632"/>
  <!-- cross icon in red box -->
  <g stroke="#f0a0a4" stroke-width="0.9" fill="none" opacity="0.9">
    <circle cx="1374.7" cy="898.7" r="7.4"/>
    <path d="M1372.6,890 H1376.8 V896.6 H1383 V900.8 H1376.8 V907.4 H1372.6 V900.8 H1366.4 V896.6 H1372.6 Z"/>
  </g>
  <!-- icon row -->
  <g>
    <rect x="1310.6" y="922" width="16.2" height="15.4" rx="1.6" fill="#2a4a7c" stroke="#a86a80" stroke-width="0.8"/>
    <path d="M1311,926 H1326.5 M1311,930 H1326.5 M1311,934 H1326.5 M1316,922 V926 M1322,926 V930 M1316,930 V934 M1322,934 V937" stroke="#7c94b8" stroke-width="0.7"/>
    <rect x="1328.9" y="922" width="14.8" height="15.4" rx="1.6" fill="#2f5288" stroke="#8a6a88" stroke-width="0.8"/>
    <path d="M1330,925 H1342 M1330,929 H1342 M1330,933 H1342" stroke="#c8d4e6" stroke-width="1.3" stroke-dasharray="2.2 1.2"/>
    <rect x="1346.8" y="922.2" width="14.6" height="15" rx="2" fill="#fff"/>
    <path d="M1349.5,935.5 V929 Q1349.5,924.5 1354.1,924.5 Q1358.7,924.5 1358.7,929 V935.5 Z" fill="#1e3c6e"/>
    <rect x="1352.3" y="928.5" width="3.6" height="7" fill="#e8eef6"/>
    <rect x="1365" y="922.2" width="14.6" height="15" rx="2" fill="#fff"/>
    <path d="M1367.6,926 H1377 V932 Q1372.3,937 1367.6,932 Z" fill="#8aa0c4"/>
    <rect x="1367.6" y="929.2" width="9.4" height="2.6" fill="#1e3c6e"/>
    <rect x="1382.4" y="922.2" width="15" height="15" rx="2" fill="#fff"/>
    <path d="M1385,925.5 H1395 V929 H1385 Z" fill="#9cb0d0"/>
    <path d="M1385,929.2 H1395 Q1395,936 1390,936 Q1385,936 1385,929.2 Z" fill="#1e3c6e"/>
  </g>
  <!-- arch cutout -->
  <path d="M1321.3,1015.8 V981 Q1321.3,974 1328.3,974 H1377.3 Q1384.3,974 1384.3,981 V1015.8 Z" fill="#fff"/>
  <path d="M1322.8,1001.4 L1333,987.9 L1341.5,988.8 L1341.5,998 L1335.8,996 L1327.2,1002.3 Z" fill="#d9423f"/>
  <path d="M1382.9,1001.4 L1372.8,987.9 L1364.2,988.8 L1364.2,998 L1370,996 L1378.6,1002.3 Z" fill="#d9423f"/>
  <rect x="1325.8" y="1002" width="2.6" height="14" fill="#d9423f"/>
  <rect x="1377.4" y="1002" width="2.6" height="14" fill="#d9423f"/>
  <rect x="1332" y="1004" width="4" height="12" fill="#d9423f" opacity="0.0"/>
  <!-- shank in arch -->
  <rect x="1340.6" y="974" width="24" height="30" rx="2" fill="url(#gpShankTop)"/>
  <!-- dots on card -->
  <circle cx="1312.7" cy="990.8" r="5.6" fill="#d7322f"/>
  <circle cx="1393" cy="990.8" r="5.6" fill="#e36e6b"/>
  <!-- cap -->
  <path d="M1334.8,1002.5 Q1352.9,999 1370.9,1002.5 V1045.5 Q1352.9,1047.8 1334.8,1045.5 Z" fill="url(#gpCap)"/>
  <path d="M1334.8,1002.5 Q1352.9,999 1370.9,1002.5 Q1352.9,1005 1334.8,1002.5 Z" fill="#cf4541"/>
</g>
<!-- texts on pack -->
<text x="1321.3" y="856" font-size="12" font-weight="bold" textLength="66" lengthAdjust="spacingAndGlyphs"><tspan fill="#f08a1c">R</tspan><tspan fill="url(#gpO)">O</tspan><tspan fill="#f4f6fa">TEC</tspan></text>
<text x="1388" y="848.5" font-size="3.4" fill="#dfe4ee">®</text>
<text x="1326.4" y="887.6" font-size="10.6" font-weight="bold" fill="#262626" stroke="#262626" stroke-width="0.45" textLength="17.4" lengthAdjust="spacingAndGlyphs">Ø 8</text>
<text x="1312.7" y="903.9" font-size="11.4" font-weight="bold" fill="#262626" stroke="#262626" stroke-width="0.45" textLength="44.4" lengthAdjust="spacingAndGlyphs">160/100</text>
<text x="1366" y="885" font-size="9.5" font-weight="bold" font-style="italic" fill="#fff" textLength="29" lengthAdjust="spacingAndGlyphs" transform="rotate(-7 1366 885)">Zentro</text>
<text x="1384.4" y="905.9" font-size="18" font-weight="bold" fill="#fff" textLength="9.8" lengthAdjust="spacingAndGlyphs">4</text>
<text x="1312.7" y="959.7" font-size="10.6" font-weight="bold" fill="#fff" stroke="#fff" stroke-width="0.35" textLength="84.2" lengthAdjust="spacingAndGlyphs">BETON / CONCRETE</text>

</g>
</svg>
</body>
</html>
